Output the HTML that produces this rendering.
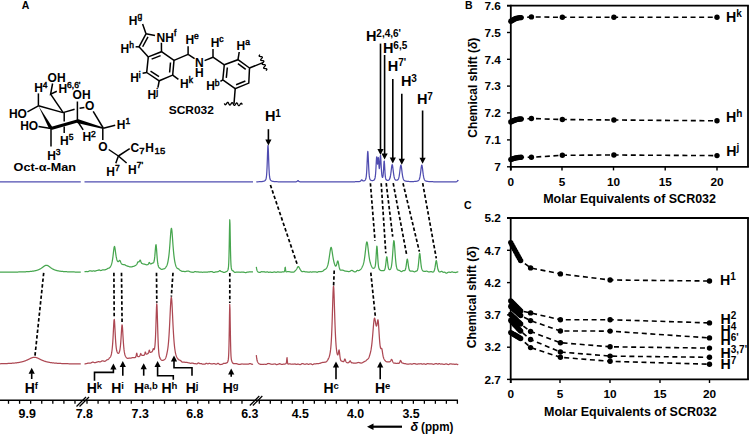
<!DOCTYPE html>
<html><head><meta charset="utf-8"><style>
html,body{margin:0;padding:0;background:#fff;}
body{width:750px;height:434px;overflow:hidden;}
svg{display:block;}
</style></head><body>
<svg width="750" height="434" viewBox="0 0 750 434" font-family='"Liberation Sans", sans-serif'>
<rect width="750" height="434" fill="#fff"/>
<path d="M0.00,181.90 L0.25,181.90 L0.50,181.90 L0.75,181.90 L1.00,181.90 L1.25,181.90 L1.50,181.90 L1.75,181.90 L2.00,181.90 L2.25,181.90 L2.50,181.90 L2.75,181.90 L3.00,181.90 L3.25,181.90 L3.50,181.90 L3.75,181.90 L4.00,181.90 L4.25,181.90 L4.50,181.90 L4.75,181.90 L5.00,181.90 L5.25,181.90 L5.50,181.90 L5.75,181.90 L6.00,181.90 L6.25,181.90 L6.50,181.90 L6.75,181.90 L7.00,181.90 L7.25,181.90 L7.50,181.90 L7.75,181.90 L8.00,181.90 L8.25,181.90 L8.50,181.90 L8.75,181.90 L9.00,181.90 L9.25,181.90 L9.50,181.90 L9.75,181.90 L10.00,181.90 L10.25,181.90 L10.50,181.90 L10.75,181.90 L11.00,181.90 L11.25,181.90 L11.50,181.90 L11.75,181.90 L12.00,181.90 L12.25,181.90 L12.50,181.90 L12.75,181.90 L13.00,181.90 L13.25,181.90 L13.50,181.90 L13.75,181.90 L14.00,181.90 L14.25,181.90 L14.50,181.90 L14.75,181.90 L15.00,181.90 L15.25,181.90 L15.50,181.90 L15.75,181.90 L16.00,181.90 L16.25,181.90 L16.50,181.90 L16.75,181.90 L17.00,181.90 L17.25,181.90 L17.50,181.90 L17.75,181.90 L18.00,181.90 L18.25,181.90 L18.50,181.90 L18.75,181.90 L19.00,181.90 L19.25,181.90 L19.50,181.90 L19.75,181.90 L20.00,181.90 L20.25,181.90 L20.50,181.90 L20.75,181.90 L21.00,181.90 L21.25,181.90 L21.50,181.90 L21.75,181.90 L22.00,181.90 L22.25,181.90 L22.50,181.90 L22.75,181.90 L23.00,181.90 L23.25,181.90 L23.50,181.90 L23.75,181.90 L24.00,181.90 L24.25,181.90 L24.50,181.90 L24.75,181.90 L25.00,181.90 L25.25,181.90 L25.50,181.90 L25.75,181.90 L26.00,181.90 L26.25,181.90 L26.50,181.90 L26.75,181.90 L27.00,181.90 L27.25,181.90 L27.50,181.90 L27.75,181.90 L28.00,181.90 L28.25,181.90 L28.50,181.90 L28.75,181.90 L29.00,181.90 L29.25,181.90 L29.50,181.90 L29.75,181.90 L30.00,181.90 L30.25,181.90 L30.50,181.90 L30.75,181.90 L31.00,181.90 L31.25,181.90 L31.50,181.90 L31.75,181.90 L32.00,181.90 L32.25,181.90 L32.50,181.90 L32.75,181.90 L33.00,181.90 L33.25,181.90 L33.50,181.90 L33.75,181.90 L34.00,181.90 L34.25,181.90 L34.50,181.90 L34.75,181.90 L35.00,181.90 L35.25,181.90 L35.50,181.90 L35.75,181.90 L36.00,181.90 L36.25,181.90 L36.50,181.90 L36.75,181.90 L37.00,181.90 L37.25,181.90 L37.50,181.90 L37.75,181.90 L38.00,181.90 L38.25,181.90 L38.50,181.90 L38.75,181.90 L39.00,181.90 L39.25,181.90 L39.50,181.90 L39.75,181.90 L40.00,181.90 L40.25,181.90 L40.50,181.90 L40.75,181.90 L41.00,181.90 L41.25,181.90 L41.50,181.90 L41.75,181.90 L42.00,181.90 L42.25,181.90 L42.50,181.90 L42.75,181.90 L43.00,181.90 L43.25,181.90 L43.50,181.90 L43.75,181.90 L44.00,181.90 L44.25,181.90 L44.50,181.90 L44.75,181.90 L45.00,181.90 L45.25,181.90 L45.50,181.90 L45.75,181.90 L46.00,181.90 L46.25,181.90 L46.50,181.90 L46.75,181.90 L47.00,181.90 L47.25,181.90 L47.50,181.90 L47.75,181.90 L48.00,181.90 L48.25,181.90 L48.50,181.90 L48.75,181.90 L49.00,181.90 L49.25,181.90 L49.50,181.90 L49.75,181.90 L50.00,181.90 L50.25,181.90 L50.50,181.90 L50.75,181.90 L51.00,181.90 L51.25,181.90 L51.50,181.90 L51.75,181.90 L52.00,181.90 L52.25,181.90 L52.50,181.90 L52.75,181.90 L53.00,181.90 L53.25,181.90 L53.50,181.90 L53.75,181.90 L54.00,181.90 L54.25,181.90 L54.50,181.90 L54.75,181.90 L55.00,181.90 L55.25,181.90 L55.50,181.90 L55.75,181.90 L56.00,181.90 L56.25,181.90 L56.50,181.90 L56.75,181.90 L57.00,181.90 L57.25,181.90 L57.50,181.90 L57.75,181.90 L58.00,181.90 L58.25,181.90 L58.50,181.90 L58.75,181.90 L59.00,181.90 L59.25,181.90 L59.50,181.90 L59.75,181.90 L60.00,181.90 L60.25,181.90 L60.50,181.90 L60.75,181.90 L61.00,181.90 L61.25,181.90 L61.50,181.90 L61.75,181.90 L62.00,181.90 L62.25,181.90 L62.50,181.90 L62.75,181.90 L63.00,181.90 L63.25,181.90 L63.50,181.90 L63.75,181.90 L64.00,181.90 L64.25,181.90 L64.50,181.90 L64.75,181.90 L65.00,181.90 L65.25,181.90 L65.50,181.90 L65.75,181.90 L66.00,181.90 L66.25,181.90 L66.50,181.90 L66.75,181.90 L67.00,181.90 L67.25,181.90 L67.50,181.90 L67.75,181.90 L68.00,181.90 L68.25,181.90 L68.50,181.90 L68.75,181.90 L69.00,181.90 L69.25,181.90 L69.50,181.90 L69.75,181.90 L70.00,181.90 L70.25,181.90 L70.50,181.90 L70.75,181.90 L71.00,181.90 L71.25,181.90 L71.50,181.90 L71.75,181.90 L72.00,181.90 L72.25,181.90 L72.50,181.90 L72.75,181.90 L73.00,181.90 L73.25,181.90 L73.50,181.90 L73.75,181.90 L74.00,181.90 L74.25,181.90 L74.50,181.90 L74.75,181.90 L75.00,181.90 L75.25,181.90 L75.50,181.90 L75.75,181.90 L76.00,181.90 L76.25,181.90 L76.50,181.90 L76.75,181.90 L77.00,181.90 L77.25,181.90 L77.50,181.90 L77.75,181.90 L78.00,181.90 L78.25,181.90 L78.50,181.90 L78.75,181.90 L79.00,181.90 L79.25,181.90 L79.50,181.90 L79.75,181.90 L80.00,181.90 L80.25,181.90 L80.50,181.90 L80.75,181.90" fill="none" stroke="#4f4cb0" stroke-width="1.25" stroke-linejoin="round"/>
<path d="M84.50,181.90 L84.75,181.90 L85.00,181.90 L85.25,181.90 L85.50,181.90 L85.75,181.90 L86.00,181.90 L86.25,181.90 L86.50,181.90 L86.75,181.90 L87.00,181.90 L87.25,181.90 L87.50,181.90 L87.75,181.90 L88.00,181.90 L88.25,181.90 L88.50,181.90 L88.75,181.90 L89.00,181.90 L89.25,181.90 L89.50,181.90 L89.75,181.90 L90.00,181.90 L90.25,181.90 L90.50,181.90 L90.75,181.90 L91.00,181.90 L91.25,181.90 L91.50,181.90 L91.75,181.90 L92.00,181.90 L92.25,181.90 L92.50,181.90 L92.75,181.90 L93.00,181.90 L93.25,181.90 L93.50,181.90 L93.75,181.90 L94.00,181.90 L94.25,181.90 L94.50,181.90 L94.75,181.90 L95.00,181.90 L95.25,181.90 L95.50,181.90 L95.75,181.90 L96.00,181.90 L96.25,181.90 L96.50,181.90 L96.75,181.90 L97.00,181.90 L97.25,181.90 L97.50,181.90 L97.75,181.90 L98.00,181.90 L98.25,181.90 L98.50,181.90 L98.75,181.90 L99.00,181.90 L99.25,181.90 L99.50,181.90 L99.75,181.90 L100.00,181.90 L100.25,181.90 L100.50,181.90 L100.75,181.90 L101.00,181.90 L101.25,181.90 L101.50,181.90 L101.75,181.90 L102.00,181.90 L102.25,181.90 L102.50,181.90 L102.75,181.90 L103.00,181.90 L103.25,181.90 L103.50,181.90 L103.75,181.90 L104.00,181.90 L104.25,181.90 L104.50,181.90 L104.75,181.90 L105.00,181.90 L105.25,181.90 L105.50,181.90 L105.75,181.90 L106.00,181.90 L106.25,181.90 L106.50,181.90 L106.75,181.90 L107.00,181.90 L107.25,181.90 L107.50,181.90 L107.75,181.90 L108.00,181.90 L108.25,181.90 L108.50,181.90 L108.75,181.90 L109.00,181.90 L109.25,181.90 L109.50,181.90 L109.75,181.90 L110.00,181.90 L110.25,181.90 L110.50,181.90 L110.75,181.90 L111.00,181.90 L111.25,181.90 L111.50,181.90 L111.75,181.90 L112.00,181.90 L112.25,181.90 L112.50,181.90 L112.75,181.90 L113.00,181.90 L113.25,181.90 L113.50,181.90 L113.75,181.90 L114.00,181.90 L114.25,181.90 L114.50,181.90 L114.75,181.90 L115.00,181.90 L115.25,181.90 L115.50,181.90 L115.75,181.90 L116.00,181.90 L116.25,181.90 L116.50,181.90 L116.75,181.90 L117.00,181.90 L117.25,181.90 L117.50,181.90 L117.75,181.90 L118.00,181.90 L118.25,181.90 L118.50,181.90 L118.75,181.90 L119.00,181.90 L119.25,181.90 L119.50,181.90 L119.75,181.90 L120.00,181.90 L120.25,181.90 L120.50,181.90 L120.75,181.90 L121.00,181.90 L121.25,181.90 L121.50,181.90 L121.75,181.90 L122.00,181.90 L122.25,181.90 L122.50,181.90 L122.75,181.90 L123.00,181.90 L123.25,181.90 L123.50,181.90 L123.75,181.90 L124.00,181.90 L124.25,181.90 L124.50,181.90 L124.75,181.90 L125.00,181.90 L125.25,181.90 L125.50,181.90 L125.75,181.90 L126.00,181.90 L126.25,181.90 L126.50,181.90 L126.75,181.90 L127.00,181.90 L127.25,181.90 L127.50,181.90 L127.75,181.90 L128.00,181.90 L128.25,181.90 L128.50,181.90 L128.75,181.90 L129.00,181.90 L129.25,181.90 L129.50,181.90 L129.75,181.90 L130.00,181.90 L130.25,181.90 L130.50,181.90 L130.75,181.90 L131.00,181.90 L131.25,181.90 L131.50,181.90 L131.75,181.90 L132.00,181.90 L132.25,181.90 L132.50,181.90 L132.75,181.90 L133.00,181.90 L133.25,181.90 L133.50,181.90 L133.75,181.90 L134.00,181.90 L134.25,181.90 L134.50,181.90 L134.75,181.90 L135.00,181.90 L135.25,181.90 L135.50,181.90 L135.75,181.90 L136.00,181.90 L136.25,181.90 L136.50,181.90 L136.75,181.90 L137.00,181.90 L137.25,181.90 L137.50,181.90 L137.75,181.90 L138.00,181.90 L138.25,181.90 L138.50,181.90 L138.75,181.90 L139.00,181.90 L139.25,181.90 L139.50,181.90 L139.75,181.90 L140.00,181.90 L140.25,181.90 L140.50,181.90 L140.75,181.90 L141.00,181.90 L141.25,181.90 L141.50,181.90 L141.75,181.90 L142.00,181.90 L142.25,181.90 L142.50,181.90 L142.75,181.90 L143.00,181.90 L143.25,181.90 L143.50,181.90 L143.75,181.90 L144.00,181.90 L144.25,181.90 L144.50,181.90 L144.75,181.90 L145.00,181.90 L145.25,181.90 L145.50,181.90 L145.75,181.90 L146.00,181.90 L146.25,181.90 L146.50,181.90 L146.75,181.90 L147.00,181.90 L147.25,181.90 L147.50,181.90 L147.75,181.90 L148.00,181.90 L148.25,181.90 L148.50,181.90 L148.75,181.90 L149.00,181.90 L149.25,181.90 L149.50,181.90 L149.75,181.90 L150.00,181.90 L150.25,181.90 L150.50,181.90 L150.75,181.90 L151.00,181.90 L151.25,181.90 L151.50,181.90 L151.75,181.90 L152.00,181.90 L152.25,181.90 L152.50,181.90 L152.75,181.90 L153.00,181.90 L153.25,181.90 L153.50,181.90 L153.75,181.90 L154.00,181.90 L154.25,181.90 L154.50,181.90 L154.75,181.90 L155.00,181.90 L155.25,181.90 L155.50,181.90 L155.75,181.90 L156.00,181.90 L156.25,181.90 L156.50,181.90 L156.75,181.90 L157.00,181.90 L157.25,181.90 L157.50,181.90 L157.75,181.90 L158.00,181.90 L158.25,181.90 L158.50,181.90 L158.75,181.90 L159.00,181.90 L159.25,181.90 L159.50,181.90 L159.75,181.90 L160.00,181.90 L160.25,181.90 L160.50,181.90 L160.75,181.90 L161.00,181.90 L161.25,181.90 L161.50,181.90 L161.75,181.90 L162.00,181.90 L162.25,181.90 L162.50,181.90 L162.75,181.90 L163.00,181.90 L163.25,181.90 L163.50,181.90 L163.75,181.90 L164.00,181.90 L164.25,181.90 L164.50,181.90 L164.75,181.90 L165.00,181.90 L165.25,181.90 L165.50,181.90 L165.75,181.90 L166.00,181.90 L166.25,181.90 L166.50,181.90 L166.75,181.90 L167.00,181.90 L167.25,181.90 L167.50,181.90 L167.75,181.90 L168.00,181.90 L168.25,181.90 L168.50,181.90 L168.75,181.90 L169.00,181.90 L169.25,181.90 L169.50,181.90 L169.75,181.90 L170.00,181.90 L170.25,181.90 L170.50,181.90 L170.75,181.90 L171.00,181.90 L171.25,181.90 L171.50,181.90 L171.75,181.90 L172.00,181.90 L172.25,181.90 L172.50,181.90 L172.75,181.90 L173.00,181.90 L173.25,181.90 L173.50,181.90 L173.75,181.90 L174.00,181.90 L174.25,181.90 L174.50,181.90 L174.75,181.90 L175.00,181.90 L175.25,181.90 L175.50,181.90 L175.75,181.90 L176.00,181.90 L176.25,181.90 L176.50,181.90 L176.75,181.90 L177.00,181.90 L177.25,181.90 L177.50,181.90 L177.75,181.90 L178.00,181.90 L178.25,181.90 L178.50,181.90 L178.75,181.90 L179.00,181.90 L179.25,181.90 L179.50,181.90 L179.75,181.90 L180.00,181.90 L180.25,181.90 L180.50,181.90 L180.75,181.90 L181.00,181.90 L181.25,181.90 L181.50,181.90 L181.75,181.90 L182.00,181.90 L182.25,181.90 L182.50,181.90 L182.75,181.90 L183.00,181.90 L183.25,181.90 L183.50,181.90 L183.75,181.90 L184.00,181.90 L184.25,181.90 L184.50,181.90 L184.75,181.90 L185.00,181.90 L185.25,181.90 L185.50,181.90 L185.75,181.90 L186.00,181.90 L186.25,181.90 L186.50,181.90 L186.75,181.90 L187.00,181.90 L187.25,181.90 L187.50,181.90 L187.75,181.90 L188.00,181.90 L188.25,181.90 L188.50,181.90 L188.75,181.90 L189.00,181.90 L189.25,181.90 L189.50,181.90 L189.75,181.90 L190.00,181.90 L190.25,181.90 L190.50,181.90 L190.75,181.90 L191.00,181.90 L191.25,181.90 L191.50,181.90 L191.75,181.90 L192.00,181.90 L192.25,181.90 L192.50,181.90 L192.75,181.90 L193.00,181.90 L193.25,181.90 L193.50,181.90 L193.75,181.90 L194.00,181.90 L194.25,181.90 L194.50,181.90 L194.75,181.90 L195.00,181.90 L195.25,181.90 L195.50,181.90 L195.75,181.90 L196.00,181.90 L196.25,181.90 L196.50,181.90 L196.75,181.90 L197.00,181.90 L197.25,181.90 L197.50,181.90 L197.75,181.90 L198.00,181.90 L198.25,181.90 L198.50,181.90 L198.75,181.90 L199.00,181.90 L199.25,181.90 L199.50,181.90 L199.75,181.90 L200.00,181.90 L200.25,181.90 L200.50,181.90 L200.75,181.90 L201.00,181.90 L201.25,181.90 L201.50,181.90 L201.75,181.90 L202.00,181.90 L202.25,181.90 L202.50,181.90 L202.75,181.90 L203.00,181.90 L203.25,181.90 L203.50,181.90 L203.75,181.90 L204.00,181.90 L204.25,181.90 L204.50,181.90 L204.75,181.90 L205.00,181.90 L205.25,181.90 L205.50,181.90 L205.75,181.90 L206.00,181.90 L206.25,181.90 L206.50,181.90 L206.75,181.90 L207.00,181.90 L207.25,181.90 L207.50,181.90 L207.75,181.90 L208.00,181.90 L208.25,181.90 L208.50,181.90 L208.75,181.90 L209.00,181.90 L209.25,181.90 L209.50,181.90 L209.75,181.90 L210.00,181.90 L210.25,181.90 L210.50,181.90 L210.75,181.90 L211.00,181.90 L211.25,181.90 L211.50,181.90 L211.75,181.90 L212.00,181.90 L212.25,181.90 L212.50,181.90 L212.75,181.90 L213.00,181.90 L213.25,181.90 L213.50,181.90 L213.75,181.90 L214.00,181.90 L214.25,181.90 L214.50,181.90 L214.75,181.90 L215.00,181.90 L215.25,181.90 L215.50,181.90 L215.75,181.90 L216.00,181.90 L216.25,181.90 L216.50,181.90 L216.75,181.90 L217.00,181.90 L217.25,181.90 L217.50,181.90 L217.75,181.90 L218.00,181.90 L218.25,181.90 L218.50,181.90 L218.75,181.90 L219.00,181.90 L219.25,181.90 L219.50,181.90 L219.75,181.90 L220.00,181.90 L220.25,181.90 L220.50,181.90 L220.75,181.90 L221.00,181.90 L221.25,181.90 L221.50,181.90 L221.75,181.90 L222.00,181.90 L222.25,181.90 L222.50,181.90 L222.75,181.90 L223.00,181.90 L223.25,181.90 L223.50,181.90 L223.75,181.90 L224.00,181.90 L224.25,181.90 L224.50,181.90 L224.75,181.90 L225.00,181.90 L225.25,181.90 L225.50,181.90 L225.75,181.90 L226.00,181.90 L226.25,181.90 L226.50,181.90 L226.75,181.90 L227.00,181.90 L227.25,181.90 L227.50,181.90 L227.75,181.90 L228.00,181.90 L228.25,181.90 L228.50,181.90 L228.75,181.90 L229.00,181.90 L229.25,181.90 L229.50,181.90 L229.75,181.90 L230.00,181.90 L230.25,181.90 L230.50,181.90 L230.75,181.90 L231.00,181.90 L231.25,181.90 L231.50,181.90 L231.75,181.90 L232.00,181.90 L232.25,181.90 L232.50,181.90 L232.75,181.90 L233.00,181.90 L233.25,181.90 L233.50,181.90 L233.75,181.90 L234.00,181.90 L234.25,181.90 L234.50,181.90 L234.75,181.90 L235.00,181.90 L235.25,181.90 L235.50,181.90 L235.75,181.90 L236.00,181.90 L236.25,181.90 L236.50,181.90 L236.75,181.90 L237.00,181.90 L237.25,181.90 L237.50,181.90 L237.75,181.90 L238.00,181.90 L238.25,181.90 L238.50,181.90 L238.75,181.90 L239.00,181.90 L239.25,181.90 L239.50,181.90 L239.75,181.90 L240.00,181.90 L240.25,181.90 L240.50,181.90 L240.75,181.90 L241.00,181.90 L241.25,181.90 L241.50,181.90 L241.75,181.90 L242.00,181.90 L242.25,181.90 L242.50,181.90 L242.75,181.90 L243.00,181.90 L243.25,181.90 L243.50,181.90 L243.75,181.90 L244.00,181.90 L244.25,181.90 L244.50,181.90 L244.75,181.90 L245.00,181.90 L245.25,181.90 L245.50,181.90 L245.75,181.90 L246.00,181.90 L246.25,181.90 L246.50,181.90 L246.75,181.90 L247.00,181.90 L247.25,181.90 L247.50,181.90 L247.75,181.90 L248.00,181.90 L248.25,181.90 L248.50,181.90 L248.75,181.90 L249.00,181.90 L249.25,181.90 L249.50,181.90 L249.75,181.90 L250.00,181.90 L250.25,181.90 L250.50,181.90 L250.75,181.90 L251.00,181.90 L251.25,181.90 L251.50,181.90 L251.75,181.90 L252.00,181.90 L252.25,181.90 L252.50,181.90 L252.75,181.90 L253.00,181.90" fill="none" stroke="#4f4cb0" stroke-width="1.25" stroke-linejoin="round"/>
<path d="M256.30,181.80 L256.55,181.80 L256.80,181.79 L257.05,181.79 L257.30,181.78 L257.55,181.78 L257.80,181.77 L258.05,181.77 L258.30,181.76 L258.55,181.75 L258.80,181.74 L259.05,181.74 L259.30,181.73 L259.55,181.72 L259.80,181.70 L260.05,181.69 L260.30,181.68 L260.55,181.67 L260.80,181.65 L261.05,181.63 L261.30,181.61 L261.55,181.59 L261.80,181.56 L262.05,181.54 L262.30,181.51 L262.55,181.47 L262.80,181.43 L263.05,181.38 L263.30,181.33 L263.55,181.26 L263.80,181.19 L264.05,181.10 L264.30,181.00 L264.55,180.87 L264.80,180.71 L265.05,180.51 L265.30,180.26 L265.55,179.93 L265.80,179.46 L266.05,178.73 L266.30,177.52 L266.55,175.51 L266.80,172.24 L267.05,167.35 L267.30,160.81 L267.55,153.38 L267.80,147.18 L268.05,145.42 L268.30,149.31 L268.55,156.36 L268.80,163.60 L269.05,169.51 L269.30,173.72 L269.55,176.44 L269.80,178.08 L270.05,179.06 L270.30,179.67 L270.55,180.08 L270.80,180.37 L271.05,180.60 L271.30,180.78 L271.55,180.92 L271.80,181.04 L272.05,181.14 L272.30,181.22 L272.55,181.29 L272.80,181.35 L273.05,181.40 L273.30,181.44 L273.55,181.48 L273.80,181.52 L274.05,181.55 L274.30,181.57 L274.55,181.60 L274.80,181.62 L275.05,181.64 L275.30,181.65 L275.55,181.67 L275.80,181.68 L276.05,181.70 L276.30,181.71 L276.55,181.72 L276.80,181.73 L277.05,181.74 L277.30,181.74 L277.55,181.75 L277.80,181.76 L278.05,181.77 L278.30,181.77 L278.55,181.78 L278.80,181.78 L279.05,181.79 L279.30,181.79 L279.55,181.80 L279.80,181.80 L280.05,181.80 L280.30,181.81 L280.55,181.81 L280.80,181.81 L281.05,181.82 L281.30,181.82 L281.55,181.82 L281.80,181.82 L282.05,181.83 L282.30,181.83 L282.55,181.83 L282.80,181.83 L283.05,181.83 L283.30,181.84 L283.55,181.84 L283.80,181.84 L284.05,181.84 L284.30,181.84 L284.55,181.84 L284.80,181.84 L285.05,181.85 L285.30,181.85 L285.55,181.85 L285.80,181.85 L286.05,181.85 L286.30,181.85 L286.55,181.85 L286.80,181.85 L287.05,181.85 L287.30,181.85 L287.55,181.85 L287.80,181.85 L288.05,181.85 L288.30,181.86 L288.55,181.86 L288.80,181.86 L289.05,181.86 L289.30,181.86 L289.55,181.86 L289.80,181.86 L290.05,181.86 L290.30,181.86 L290.55,181.86 L290.80,181.86 L291.05,181.86 L291.30,181.86 L291.55,181.86 L291.80,181.86 L292.05,181.86 L292.30,181.86 L292.55,181.85 L292.80,181.85 L293.05,181.85 L293.30,181.85 L293.55,181.85 L293.80,181.85 L294.05,181.84 L294.30,181.84 L294.55,181.84 L294.80,181.83 L295.05,181.82 L295.30,181.82 L295.55,181.80 L295.80,181.79 L296.05,181.76 L296.30,181.72 L296.55,181.65 L296.80,181.54 L297.05,181.37 L297.30,181.14 L297.55,180.88 L297.80,180.67 L298.05,180.60 L298.30,180.74 L298.55,180.99 L298.80,181.24 L299.05,181.44 L299.30,181.59 L299.55,181.69 L299.80,181.74 L300.05,181.78 L300.30,181.80 L300.55,181.81 L300.80,181.82 L301.05,181.83 L301.30,181.84 L301.55,181.84 L301.80,181.85 L302.05,181.85 L302.30,181.85 L302.55,181.86 L302.80,181.86 L303.05,181.86 L303.30,181.86 L303.55,181.86 L303.80,181.86 L304.05,181.87 L304.30,181.87 L304.55,181.87 L304.80,181.87 L305.05,181.87 L305.30,181.87 L305.55,181.87 L305.80,181.87 L306.05,181.87 L306.30,181.87 L306.55,181.87 L306.80,181.87 L307.05,181.87 L307.30,181.87 L307.55,181.87 L307.80,181.87 L308.05,181.87 L308.30,181.87 L308.55,181.87 L308.80,181.87 L309.05,181.87 L309.30,181.87 L309.55,181.87 L309.80,181.87 L310.05,181.87 L310.30,181.88 L310.55,181.88 L310.80,181.88 L311.05,181.88 L311.30,181.88 L311.55,181.88 L311.80,181.88 L312.05,181.88 L312.30,181.88 L312.55,181.88 L312.80,181.88 L313.05,181.88 L313.30,181.88 L313.55,181.88 L313.80,181.88 L314.05,181.88 L314.30,181.88 L314.55,181.88 L314.80,181.88 L315.05,181.88 L315.30,181.88 L315.55,181.88 L315.80,181.88 L316.05,181.88 L316.30,181.88 L316.55,181.88 L316.80,181.88 L317.05,181.88 L317.30,181.88 L317.55,181.88 L317.80,181.88 L318.05,181.88 L318.30,181.88 L318.55,181.88 L318.80,181.87 L319.05,181.87 L319.30,181.87 L319.55,181.87 L319.80,181.87 L320.05,181.87 L320.30,181.87 L320.55,181.87 L320.80,181.87 L321.05,181.87 L321.30,181.87 L321.55,181.87 L321.80,181.87 L322.05,181.87 L322.30,181.87 L322.55,181.87 L322.80,181.87 L323.05,181.87 L323.30,181.87 L323.55,181.87 L323.80,181.87 L324.05,181.87 L324.30,181.87 L324.55,181.87 L324.80,181.87 L325.05,181.87 L325.30,181.87 L325.55,181.87 L325.80,181.87 L326.05,181.87 L326.30,181.87 L326.55,181.87 L326.80,181.87 L327.05,181.87 L327.30,181.87 L327.55,181.87 L327.80,181.87 L328.05,181.87 L328.30,181.87 L328.55,181.87 L328.80,181.87 L329.05,181.87 L329.30,181.87 L329.55,181.87 L329.80,181.87 L330.05,181.87 L330.30,181.87 L330.55,181.87 L330.80,181.87 L331.05,181.87 L331.30,181.87 L331.55,181.87 L331.80,181.87 L332.05,181.87 L332.30,181.87 L332.55,181.86 L332.80,181.86 L333.05,181.86 L333.30,181.86 L333.55,181.86 L333.80,181.86 L334.05,181.86 L334.30,181.86 L334.55,181.86 L334.80,181.86 L335.05,181.86 L335.30,181.86 L335.55,181.86 L335.80,181.86 L336.05,181.86 L336.30,181.86 L336.55,181.86 L336.80,181.86 L337.05,181.86 L337.30,181.86 L337.55,181.86 L337.80,181.86 L338.05,181.86 L338.30,181.86 L338.55,181.85 L338.80,181.85 L339.05,181.85 L339.30,181.85 L339.55,181.85 L339.80,181.85 L340.05,181.85 L340.30,181.85 L340.55,181.85 L340.80,181.85 L341.05,181.85 L341.30,181.85 L341.55,181.85 L341.80,181.85 L342.05,181.85 L342.30,181.85 L342.55,181.84 L342.80,181.84 L343.05,181.84 L343.30,181.84 L343.55,181.84 L343.80,181.84 L344.05,181.84 L344.30,181.84 L344.55,181.84 L344.80,181.84 L345.05,181.84 L345.30,181.83 L345.55,181.83 L345.80,181.83 L346.05,181.83 L346.30,181.83 L346.55,181.83 L346.80,181.83 L347.05,181.83 L347.30,181.83 L347.55,181.82 L347.80,181.82 L348.05,181.82 L348.30,181.82 L348.55,181.82 L348.80,181.82 L349.05,181.81 L349.30,181.81 L349.55,181.81 L349.80,181.81 L350.05,181.81 L350.30,181.81 L350.55,181.80 L350.80,181.80 L351.05,181.80 L351.30,181.80 L351.55,181.79 L351.80,181.79 L352.05,181.79 L352.30,181.79 L352.55,181.78 L352.80,181.78 L353.05,181.78 L353.30,181.77 L353.55,181.77 L353.80,181.77 L354.05,181.76 L354.30,181.76 L354.55,181.75 L354.80,181.75 L355.05,181.75 L355.30,181.74 L355.55,181.73 L355.80,181.73 L356.05,181.72 L356.30,181.72 L356.55,181.71 L356.80,181.70 L357.05,181.69 L357.30,181.68 L357.55,181.67 L357.80,181.66 L358.05,181.65 L358.30,181.63 L358.55,181.62 L358.80,181.60 L359.05,181.57 L359.30,181.55 L359.55,181.51 L359.80,181.46 L360.05,181.39 L360.30,181.27 L360.55,181.09 L360.80,180.83 L361.05,180.50 L361.30,180.14 L361.55,179.87 L361.80,179.81 L362.05,180.00 L362.30,180.29 L362.55,180.57 L362.80,180.78 L363.05,180.90 L363.30,180.96 L363.55,180.95 L363.80,180.91 L364.05,180.84 L364.30,180.73 L364.55,180.60 L364.80,180.43 L365.05,180.21 L365.30,179.92 L365.55,179.49 L365.80,178.83 L366.05,177.77 L366.30,176.04 L366.55,173.34 L366.80,169.43 L367.05,164.32 L367.30,158.52 L367.55,153.43 L367.80,151.30 L368.05,153.41 L368.30,158.48 L368.55,164.26 L368.80,169.36 L369.05,173.25 L369.30,175.92 L369.55,177.63 L369.80,178.67 L370.05,179.31 L370.30,179.71 L370.55,179.98 L370.80,180.18 L371.05,180.32 L371.30,180.42 L371.55,180.50 L371.80,180.54 L372.05,180.57 L372.30,180.58 L372.55,180.57 L372.80,180.54 L373.05,180.49 L373.30,180.41 L373.55,180.31 L373.80,180.17 L374.05,179.99 L374.30,179.75 L374.55,179.39 L374.80,178.84 L375.05,177.94 L375.30,176.47 L375.55,174.13 L375.80,170.71 L376.05,166.26 L376.30,161.40 L376.55,157.61 L376.80,156.81 L377.05,159.09 L377.30,162.28 L377.55,164.12 L377.80,163.43 L378.05,160.42 L378.30,157.50 L378.55,158.48 L378.80,162.88 L379.05,166.94 L379.30,168.67 L379.55,167.70 L379.80,164.54 L380.05,160.18 L380.30,156.38 L380.55,155.42 L380.80,158.18 L381.05,163.01 L381.30,167.92 L381.55,171.88 L381.80,174.65 L382.05,176.34 L382.30,177.19 L382.55,177.39 L382.80,176.94 L383.05,175.65 L383.30,173.22 L383.55,169.54 L383.80,165.07 L384.05,161.41 L384.30,161.08 L384.55,164.43 L384.80,169.10 L385.05,173.20 L385.30,176.12 L385.55,177.92 L385.80,178.94 L386.05,179.50 L386.30,179.83 L386.55,180.04 L386.80,180.18 L387.05,180.27 L387.30,180.32 L387.55,180.35 L387.80,180.35 L388.05,180.32 L388.30,180.27 L388.55,180.18 L388.80,180.04 L389.05,179.84 L389.30,179.55 L389.55,179.15 L389.80,178.57 L390.05,177.78 L390.30,176.74 L390.55,175.40 L390.80,173.75 L391.05,171.84 L391.30,169.74 L391.55,167.66 L391.80,165.88 L392.05,164.79 L392.30,164.68 L392.55,165.60 L392.80,167.26 L393.05,169.31 L393.30,171.41 L393.55,173.37 L393.80,175.07 L394.05,176.47 L394.30,177.57 L394.55,178.40 L394.80,179.01 L395.05,179.44 L395.30,179.74 L395.55,179.95 L395.80,180.09 L396.05,180.18 L396.30,180.23 L396.55,180.25 L396.80,180.24 L397.05,180.20 L397.30,180.12 L397.55,179.99 L397.80,179.80 L398.05,179.51 L398.30,179.10 L398.55,178.51 L398.80,177.71 L399.05,176.64 L399.30,175.28 L399.55,173.63 L399.80,171.72 L400.05,169.67 L400.30,167.68 L400.55,166.06 L400.80,165.18 L401.05,165.29 L401.30,166.37 L401.55,168.12 L401.80,170.17 L402.05,172.23 L402.30,174.12 L402.55,175.75 L402.80,177.08 L403.05,178.12 L403.30,178.91 L403.55,179.50 L403.80,179.93 L404.05,180.24 L404.30,180.47 L404.55,180.64 L404.80,180.77 L405.05,180.88 L405.30,180.97 L405.55,181.05 L405.80,181.11 L406.05,181.17 L406.30,181.21 L406.55,181.26 L406.80,181.29 L407.05,181.33 L407.30,181.35 L407.55,181.38 L407.80,181.40 L408.05,181.42 L408.30,181.44 L408.55,181.46 L408.80,181.47 L409.05,181.49 L409.30,181.50 L409.55,181.51 L409.80,181.52 L410.05,181.52 L410.30,181.53 L410.55,181.54 L410.80,181.54 L411.05,181.54 L411.30,181.54 L411.55,181.55 L411.80,181.55 L412.05,181.55 L412.30,181.54 L412.55,181.54 L412.80,181.54 L413.05,181.53 L413.30,181.53 L413.55,181.52 L413.80,181.51 L414.05,181.50 L414.30,181.49 L414.55,181.47 L414.80,181.46 L415.05,181.44 L415.30,181.42 L415.55,181.39 L415.80,181.36 L416.05,181.33 L416.30,181.30 L416.55,181.25 L416.80,181.21 L417.05,181.15 L417.30,181.08 L417.55,181.00 L417.80,180.91 L418.05,180.79 L418.30,180.64 L418.55,180.44 L418.80,180.17 L419.05,179.79 L419.30,179.27 L419.55,178.57 L419.80,177.62 L420.05,176.40 L420.30,174.88 L420.55,173.07 L420.80,171.05 L421.05,168.94 L421.30,167.02 L421.55,165.62 L421.80,165.10 L422.05,165.62 L422.30,167.02 L422.55,168.95 L422.80,171.06 L423.05,173.09 L423.30,174.90 L423.55,176.42 L423.80,177.65 L424.05,178.59 L424.30,179.30 L424.55,179.82 L424.80,180.20 L425.05,180.47 L425.30,180.68 L425.55,180.83 L425.80,180.95 L426.05,181.05 L426.30,181.14 L426.55,181.21 L426.80,181.27 L427.05,181.32 L427.30,181.36 L427.55,181.40 L427.80,181.44 L428.05,181.47 L428.30,181.50 L428.55,181.52 L428.80,181.55 L429.05,181.57 L429.30,181.59 L429.55,181.60 L429.80,181.62 L430.05,181.63 L430.30,181.65 L430.55,181.66 L430.80,181.67 L431.05,181.68 L431.30,181.69 L431.55,181.70 L431.80,181.71 L432.05,181.72 L432.30,181.72 L432.55,181.73 L432.80,181.74 L433.05,181.74 L433.30,181.75 L433.55,181.75 L433.80,181.76 L434.05,181.76 L434.30,181.77 L434.55,181.77 L434.80,181.77 L435.05,181.78 L435.30,181.78 L435.55,181.79 L435.80,181.79 L436.05,181.79 L436.30,181.79 L436.55,181.80 L436.80,181.80 L437.05,181.80 L437.30,181.80 L437.55,181.81 L437.80,181.81 L438.05,181.81 L438.30,181.81 L438.55,181.82 L438.80,181.82 L439.05,181.82 L439.30,181.82 L439.55,181.82 L439.80,181.82 L440.05,181.83 L440.30,181.83 L440.55,181.83 L440.80,181.83 L441.05,181.83 L441.30,181.83 L441.55,181.83 L441.80,181.84 L442.05,181.84 L442.30,181.84 L442.55,181.84 L442.80,181.84 L443.05,181.84 L443.30,181.84 L443.55,181.84 L443.80,181.84 L444.05,181.84 L444.30,181.85 L444.55,181.85 L444.80,181.85 L445.05,181.85 L445.30,181.85 L445.55,181.85 L445.80,181.85 L446.05,181.85 L446.30,181.85 L446.55,181.85 L446.80,181.85 L447.05,181.85 L447.30,181.85 L447.55,181.85 L447.80,181.85 L448.05,181.85 L448.30,181.86 L448.55,181.86 L448.80,181.86 L449.05,181.86 L449.30,181.86 L449.55,181.86 L449.80,181.86 L450.05,181.86 L450.30,181.86 L450.55,181.86 L450.80,181.86 L451.05,181.86 L451.30,181.86 L451.55,181.86 L451.80,181.86 L452.05,181.86 L452.30,181.86 L452.55,181.86 L452.80,181.86 L453.05,181.86 L453.30,181.85 L453.55,181.85 L453.80,181.85 L454.05,181.85 L454.30,181.85 L454.55,181.84 L454.80,181.84 L455.05,181.84 L455.30,181.83 L455.55,181.82 L455.80,181.81 L456.05,181.79 L456.30,181.76 L456.55,181.70 L456.80,181.58 L457.05,181.37 L457.30,181.05 L457.55,180.68 L457.80,180.50 L458.05,180.68 L458.30,181.05" fill="none" stroke="#4f4cb0" stroke-width="1.25" stroke-linejoin="round"/>
<path d="M0.00,272.18 L0.25,272.18 L0.50,272.18 L0.75,272.18 L1.00,272.18 L1.25,272.18 L1.50,272.18 L1.75,272.18 L2.00,272.17 L2.25,272.17 L2.50,272.17 L2.75,272.17 L3.00,272.17 L3.25,272.17 L3.50,272.17 L3.75,272.16 L4.00,272.16 L4.25,272.16 L4.50,272.16 L4.75,272.16 L5.00,272.16 L5.25,272.15 L5.50,272.15 L5.75,272.15 L6.00,272.15 L6.25,272.15 L6.50,272.15 L6.75,272.14 L7.00,272.14 L7.25,272.14 L7.50,272.14 L7.75,272.14 L8.00,272.13 L8.25,272.13 L8.50,272.13 L8.75,272.13 L9.00,272.12 L9.25,272.12 L9.50,272.12 L9.75,272.12 L10.00,272.11 L10.25,272.11 L10.50,272.11 L10.75,272.11 L11.00,272.10 L11.25,272.10 L11.50,272.10 L11.75,272.10 L12.00,272.09 L12.25,272.09 L12.50,272.09 L12.75,272.08 L13.00,272.08 L13.25,272.08 L13.50,272.07 L13.75,272.07 L14.00,272.07 L14.25,272.06 L14.50,272.06 L14.75,272.06 L15.00,272.05 L15.25,272.05 L15.50,272.05 L15.75,272.04 L16.00,272.04 L16.25,272.03 L16.50,272.03 L16.75,272.02 L17.00,272.02 L17.25,272.02 L17.50,272.01 L17.75,272.01 L18.00,272.00 L18.25,272.00 L18.50,271.99 L18.75,271.99 L19.00,271.98 L19.25,271.97 L19.50,271.97 L19.75,271.96 L20.00,271.96 L20.25,271.95 L20.50,271.94 L20.75,271.94 L21.00,271.93 L21.25,271.92 L21.50,271.92 L21.75,271.91 L22.00,271.90 L22.25,271.89 L22.50,271.88 L22.75,271.88 L23.00,271.87 L23.25,271.86 L23.50,271.85 L23.75,271.84 L24.00,271.83 L24.25,271.82 L24.50,271.81 L24.75,271.80 L25.00,271.79 L25.25,271.78 L25.50,271.77 L25.75,271.76 L26.00,271.74 L26.25,271.73 L26.50,271.72 L26.75,271.70 L27.00,271.69 L27.25,271.67 L27.50,271.66 L27.75,271.64 L28.00,271.63 L28.25,271.61 L28.50,271.59 L28.75,271.57 L29.00,271.56 L29.25,271.54 L29.50,271.52 L29.75,271.50 L30.00,271.47 L30.25,271.45 L30.50,271.43 L30.75,271.40 L31.00,271.38 L31.25,271.35 L31.50,271.32 L31.75,271.29 L32.00,271.26 L32.25,271.23 L32.50,271.20 L32.75,271.17 L33.00,271.13 L33.25,271.09 L33.50,271.06 L33.75,271.01 L34.00,270.97 L34.25,270.93 L34.50,270.88 L34.75,270.83 L35.00,270.78 L35.25,270.73 L35.50,270.67 L35.75,270.61 L36.00,270.55 L36.25,270.49 L36.50,270.42 L36.75,270.35 L37.00,270.27 L37.25,270.20 L37.50,270.11 L37.75,270.03 L38.00,269.94 L38.25,269.84 L38.50,269.74 L38.75,269.63 L39.00,269.52 L39.25,269.41 L39.50,269.29 L39.75,269.16 L40.00,269.03 L40.25,268.89 L40.50,268.74 L40.75,268.59 L41.00,268.43 L41.25,268.27 L41.50,268.10 L41.75,267.93 L42.00,267.75 L42.25,267.57 L42.50,267.38 L42.75,267.19 L43.00,267.00 L43.25,266.81 L43.50,266.63 L43.75,266.44 L44.00,266.27 L44.25,266.10 L44.50,265.94 L44.75,265.79 L45.00,265.66 L45.25,265.55 L45.50,265.45 L45.75,265.38 L46.00,265.33 L46.25,265.30 L46.50,265.30 L46.75,265.32 L47.00,265.37 L47.25,265.44 L47.50,265.53 L47.75,265.64 L48.00,265.76 L48.25,265.91 L48.50,266.06 L48.75,266.23 L49.00,266.41 L49.25,266.59 L49.50,266.77 L49.75,266.96 L50.00,267.15 L50.25,267.34 L50.50,267.53 L50.75,267.71 L51.00,267.89 L51.25,268.07 L51.50,268.24 L51.75,268.40 L52.00,268.56 L52.25,268.71 L52.50,268.86 L52.75,269.00 L53.00,269.13 L53.25,269.26 L53.50,269.38 L53.75,269.50 L54.00,269.61 L54.25,269.72 L54.50,269.82 L54.75,269.92 L55.00,270.01 L55.25,270.10 L55.50,270.18 L55.75,270.26 L56.00,270.33 L56.25,270.41 L56.50,270.47 L56.75,270.54 L57.00,270.60 L57.25,270.66 L57.50,270.72 L57.75,270.77 L58.00,270.82 L58.25,270.87 L58.50,270.92 L58.75,270.96 L59.00,271.01 L59.25,271.05 L59.50,271.09 L59.75,271.12 L60.00,271.16 L60.25,271.19 L60.50,271.23 L60.75,271.26 L61.00,271.29 L61.25,271.32 L61.50,271.35 L61.75,271.37 L62.00,271.40 L62.25,271.42 L62.50,271.45 L62.75,271.47 L63.00,271.49 L63.25,271.51 L63.50,271.53 L63.75,271.55 L64.00,271.57 L64.25,271.59 L64.50,271.61 L64.75,271.62 L65.00,271.64 L65.25,271.66 L65.50,271.67 L65.75,271.69 L66.00,271.70 L66.25,271.71 L66.50,271.73 L66.75,271.74 L67.00,271.75 L67.25,271.76 L67.50,271.78 L67.75,271.79 L68.00,271.80 L68.25,271.81 L68.50,271.82 L68.75,271.83 L69.00,271.84 L69.25,271.85 L69.50,271.86 L69.75,271.87 L70.00,271.88 L70.25,271.88 L70.50,271.89 L70.75,271.90 L71.00,271.91 L71.25,271.91 L71.50,271.92 L71.75,271.93 L72.00,271.94 L72.25,271.94 L72.50,271.95 L72.75,271.95 L73.00,271.96 L73.25,271.97 L73.50,271.97 L73.75,271.98 L74.00,271.98 L74.25,271.99 L74.50,271.99 L74.75,272.00 L75.00,272.00 L75.25,272.01 L75.50,272.01 L75.75,272.02 L76.00,272.02 L76.25,272.03 L76.50,272.03 L76.75,272.04 L77.00,272.04 L77.25,272.04 L77.50,272.05 L77.75,272.05 L78.00,272.06 L78.25,272.06 L78.50,272.06 L78.75,272.07 L79.00,272.07 L79.25,272.07 L79.50,272.08 L79.75,272.08 L80.00,272.08 L80.25,272.09 L80.50,272.09 L80.75,272.09" fill="none" stroke="#47a64f" stroke-width="1.25" stroke-linejoin="round"/>
<path d="M84.50,271.65 L84.75,271.65 L85.00,271.65 L85.25,271.61 L85.50,271.58 L85.75,271.54 L86.00,271.50 L86.25,271.49 L86.50,271.51 L86.75,271.53 L87.00,271.57 L87.25,271.61 L87.50,271.63 L87.75,271.62 L88.00,271.56 L88.25,271.46 L88.50,271.33 L88.75,271.19 L89.00,271.07 L89.25,270.99 L89.50,270.95 L89.75,270.92 L90.00,270.90 L90.25,270.87 L90.50,270.84 L90.75,270.83 L91.00,270.87 L91.25,270.95 L91.50,271.06 L91.75,271.16 L92.00,271.23 L92.25,271.24 L92.50,271.17 L92.75,271.06 L93.00,270.94 L93.25,270.84 L93.50,270.81 L93.75,270.85 L94.00,270.94 L94.25,271.05 L94.50,271.15 L94.75,271.19 L95.00,271.17 L95.25,271.10 L95.50,271.00 L95.75,270.87 L96.00,270.75 L96.25,270.65 L96.50,270.58 L96.75,270.53 L97.00,270.50 L97.25,270.46 L97.50,270.41 L97.75,270.36 L98.00,270.29 L98.25,270.20 L98.50,270.11 L98.75,270.03 L99.00,269.98 L99.25,269.98 L99.50,270.04 L99.75,270.15 L100.00,270.28 L100.25,270.40 L100.50,270.49 L100.75,270.54 L101.00,270.52 L101.25,270.45 L101.50,270.34 L101.75,270.22 L102.00,270.10 L102.25,269.99 L102.50,269.92 L102.75,269.86 L103.00,269.81 L103.25,269.79 L103.50,269.80 L103.75,269.84 L104.00,269.89 L104.25,269.94 L104.50,269.97 L104.75,269.94 L105.00,269.86 L105.25,269.75 L105.50,269.63 L105.75,269.52 L106.00,269.43 L106.25,269.33 L106.50,269.22 L106.75,269.09 L107.00,268.93 L107.25,268.75 L107.50,268.59 L107.75,268.45 L108.00,268.34 L108.25,268.26 L108.50,268.21 L108.75,268.15 L109.00,268.07 L109.25,267.96 L109.50,267.79 L109.75,267.56 L110.00,267.28 L110.25,266.94 L110.50,266.55 L110.75,266.10 L111.00,265.57 L111.25,264.96 L111.50,264.25 L111.75,263.41 L112.00,262.42 L112.25,261.22 L112.50,259.80 L112.75,258.13 L113.00,256.23 L113.25,254.12 L113.50,251.91 L113.75,249.77 L114.00,247.97 L114.25,246.80 L114.50,246.50 L114.75,247.11 L115.00,248.42 L115.25,250.16 L115.50,252.03 L115.75,253.84 L116.00,255.49 L116.25,256.93 L116.50,258.17 L116.75,259.20 L117.00,260.04 L117.25,260.70 L117.50,261.18 L117.75,261.48 L118.00,261.61 L118.25,261.59 L118.50,261.46 L118.75,261.23 L119.00,260.95 L119.25,260.67 L119.50,260.47 L119.75,260.45 L120.00,260.67 L120.25,261.11 L120.50,261.68 L120.75,262.28 L121.00,262.84 L121.25,263.31 L121.50,263.68 L121.75,263.96 L122.00,264.16 L122.25,264.31 L122.50,264.42 L122.75,264.50 L123.00,264.55 L123.25,264.60 L123.50,264.63 L123.75,264.66 L124.00,264.67 L124.25,264.69 L124.50,264.73 L124.75,264.80 L125.00,264.91 L125.25,265.04 L125.50,265.20 L125.75,265.36 L126.00,265.50 L126.25,265.63 L126.50,265.74 L126.75,265.85 L127.00,265.94 L127.25,266.04 L127.50,266.13 L127.75,266.21 L128.00,266.27 L128.25,266.31 L128.50,266.35 L128.75,266.40 L129.00,266.48 L129.25,266.60 L129.50,266.71 L129.75,266.81 L130.00,266.88 L130.25,266.92 L130.50,266.92 L130.75,266.92 L131.00,266.92 L131.25,266.92 L131.50,266.91 L131.75,266.89 L132.00,266.83 L132.25,266.74 L132.50,266.63 L132.75,266.52 L133.00,266.44 L133.25,266.38 L133.50,266.34 L133.75,266.31 L134.00,266.25 L134.25,266.15 L134.50,266.02 L134.75,265.88 L135.00,265.72 L135.25,265.57 L135.50,265.42 L135.75,265.27 L136.00,265.09 L136.25,264.89 L136.50,264.63 L136.75,264.30 L137.00,263.88 L137.25,263.36 L137.50,262.76 L137.75,262.18 L138.00,261.81 L138.25,261.72 L138.50,261.83 L138.75,261.93 L139.00,261.89 L139.25,261.64 L139.50,261.19 L139.75,260.63 L140.00,260.19 L140.25,260.13 L140.50,260.54 L140.75,261.25 L141.00,262.00 L141.25,262.62 L141.50,263.07 L141.75,263.35 L142.00,263.51 L142.25,263.60 L142.50,263.68 L142.75,263.75 L143.00,263.85 L143.25,263.94 L143.50,264.01 L143.75,264.07 L144.00,264.11 L144.25,264.14 L144.50,264.18 L144.75,264.23 L145.00,264.32 L145.25,264.42 L145.50,264.53 L145.75,264.62 L146.00,264.69 L146.25,264.73 L146.50,264.76 L146.75,264.77 L147.00,264.77 L147.25,264.75 L147.50,264.70 L147.75,264.61 L148.00,264.45 L148.25,264.19 L148.50,263.81 L148.75,263.32 L149.00,262.81 L149.25,262.50 L149.50,262.60 L149.75,263.00 L150.00,263.43 L150.25,263.77 L150.50,263.95 L150.75,263.99 L151.00,263.93 L151.25,263.81 L151.50,263.66 L151.75,263.49 L152.00,263.34 L152.25,263.21 L152.50,263.12 L152.75,263.06 L153.00,263.01 L153.25,262.92 L153.50,262.72 L153.75,262.31 L154.00,261.60 L154.25,260.48 L154.50,258.83 L154.75,256.63 L155.00,253.89 L155.25,250.78 L155.50,247.71 L155.75,245.41 L156.00,244.67 L156.25,245.90 L156.50,248.67 L156.75,252.15 L157.00,255.64 L157.25,258.73 L157.50,261.26 L157.75,263.22 L158.00,264.70 L158.25,265.78 L158.50,266.56 L158.75,267.10 L159.00,267.48 L159.25,267.74 L159.50,267.95 L159.75,268.13 L160.00,268.32 L160.25,268.53 L160.50,268.74 L160.75,268.93 L161.00,269.11 L161.25,269.23 L161.50,269.31 L161.75,269.34 L162.00,269.33 L162.25,269.28 L162.50,269.21 L162.75,269.13 L163.00,269.05 L163.25,268.99 L163.50,268.94 L163.75,268.89 L164.00,268.85 L164.25,268.77 L164.50,268.66 L164.75,268.48 L165.00,268.25 L165.25,267.97 L165.50,267.66 L165.75,267.33 L166.00,266.97 L166.25,266.60 L166.50,266.19 L166.75,265.71 L167.00,265.14 L167.25,264.44 L167.50,263.58 L167.75,262.54 L168.00,261.34 L168.25,259.96 L168.50,258.40 L168.75,256.62 L169.00,254.57 L169.25,252.21 L169.50,249.48 L169.75,246.37 L170.00,242.95 L170.25,239.33 L170.50,235.75 L170.75,232.52 L171.00,230.00 L171.25,228.56 L171.50,228.41 L171.75,229.55 L172.00,231.80 L172.25,234.82 L172.50,238.25 L172.75,241.79 L173.00,245.23 L173.25,248.42 L173.50,251.31 L173.75,253.89 L174.00,256.14 L174.25,258.11 L174.50,259.81 L174.75,261.29 L175.00,262.58 L175.25,263.70 L175.50,264.67 L175.75,265.49 L176.00,266.19 L176.25,266.78 L176.50,267.29 L176.75,267.72 L177.00,268.09 L177.25,268.36 L177.50,268.54 L177.75,268.64 L178.00,268.70 L178.25,268.77 L178.50,268.88 L178.75,269.06 L179.00,269.30 L179.25,269.57 L179.50,269.82 L179.75,270.04 L180.00,270.21 L180.25,270.34 L180.50,270.46 L180.75,270.59 L181.00,270.74 L181.25,270.91 L181.50,271.09 L181.75,271.24 L182.00,271.35 L182.25,271.40 L182.50,271.39 L182.75,271.35 L183.00,271.30 L183.25,271.28 L183.50,271.28 L183.75,271.32 L184.00,271.39 L184.25,271.47 L184.50,271.54 L184.75,271.58 L185.00,271.60 L185.25,271.58 L185.50,271.53 L185.75,271.48 L186.00,271.42 L186.25,271.35 L186.50,271.28 L186.75,271.19 L187.00,271.11 L187.25,271.05 L187.50,271.01 L187.75,271.01 L188.00,271.03 L188.25,271.07 L188.50,271.11 L188.75,271.17 L189.00,271.25 L189.25,271.34 L189.50,271.45 L189.75,271.58 L190.00,271.70 L190.25,271.82 L190.50,271.91 L190.75,271.98 L191.00,272.03 L191.25,272.06 L191.50,272.08 L191.75,272.11 L192.00,272.14 L192.25,272.18 L192.50,272.23 L192.75,272.27 L193.00,272.29 L193.25,272.28 L193.50,272.24 L193.75,272.16 L194.00,272.05 L194.25,271.92 L194.50,271.79 L194.75,271.67 L195.00,271.60 L195.25,271.57 L195.50,271.61 L195.75,271.67 L196.00,271.73 L196.25,271.78 L196.50,271.80 L196.75,271.80 L197.00,271.79 L197.25,271.77 L197.50,271.77 L197.75,271.79 L198.00,271.84 L198.25,271.90 L198.50,271.96 L198.75,272.02 L199.00,272.06 L199.25,272.08 L199.50,272.08 L199.75,272.08 L200.00,272.07 L200.25,272.06 L200.50,272.07 L200.75,272.07 L201.00,272.09 L201.25,272.12 L201.50,272.15 L201.75,272.19 L202.00,272.22 L202.25,272.25 L202.50,272.27 L202.75,272.27 L203.00,272.24 L203.25,272.18 L203.50,272.11 L203.75,272.05 L204.00,272.01 L204.25,272.00 L204.50,272.03 L204.75,272.07 L205.00,272.11 L205.25,272.15 L205.50,272.17 L205.75,272.18 L206.00,272.18 L206.25,272.18 L206.50,272.16 L206.75,272.15 L207.00,272.12 L207.25,272.09 L207.50,272.05 L207.75,272.02 L208.00,271.99 L208.25,271.98 L208.50,271.97 L208.75,271.97 L209.00,271.98 L209.25,271.96 L209.50,271.90 L209.75,271.81 L210.00,271.71 L210.25,271.62 L210.50,271.56 L210.75,271.53 L211.00,271.53 L211.25,271.54 L211.50,271.55 L211.75,271.58 L212.00,271.64 L212.25,271.72 L212.50,271.83 L212.75,271.97 L213.00,272.11 L213.25,272.24 L213.50,272.35 L213.75,272.42 L214.00,272.45 L214.25,272.43 L214.50,272.37 L214.75,272.27 L215.00,272.16 L215.25,272.06 L215.50,271.97 L215.75,271.91 L216.00,271.89 L216.25,271.88 L216.50,271.88 L216.75,271.87 L217.00,271.84 L217.25,271.80 L217.50,271.76 L217.75,271.70 L218.00,271.64 L218.25,271.57 L218.50,271.48 L218.75,271.36 L219.00,271.17 L219.25,270.93 L219.50,270.68 L219.75,270.52 L220.00,270.56 L220.25,270.76 L220.50,271.00 L220.75,271.22 L221.00,271.37 L221.25,271.48 L221.50,271.55 L221.75,271.62 L222.00,271.69 L222.25,271.77 L222.50,271.86 L222.75,271.98 L223.00,272.10 L223.25,272.22 L223.50,272.33 L223.75,272.41 L224.00,272.46 L224.25,272.45 L224.50,272.39 L224.75,272.31 L225.00,272.22 L225.25,272.11 L225.50,272.00 L225.75,271.88 L226.00,271.77 L226.25,271.64 L226.50,271.51 L226.75,271.36 L227.00,271.18 L227.25,270.96 L227.50,270.69 L227.75,270.32 L228.00,269.74 L228.25,268.74 L228.50,266.77 L228.75,262.78 L229.00,255.32 L229.25,243.52 L229.50,229.18 L229.75,219.75 L230.00,224.07 L230.25,237.57 L230.50,250.75 L230.75,259.85 L231.00,265.03 L231.25,267.66 L231.50,269.01 L231.75,269.76 L232.00,270.20 L232.25,270.46 L232.50,270.60 L232.75,270.70 L233.00,270.82 L233.25,270.99 L233.50,271.23 L233.75,271.50 L234.00,271.77 L234.25,272.01 L234.50,272.20 L234.75,272.31 L235.00,272.35 L235.25,272.34 L235.50,272.30 L235.75,272.24 L236.00,272.19 L236.25,272.16 L236.50,272.15 L236.75,272.17 L237.00,272.19 L237.25,272.22 L237.50,272.24 L237.75,272.24 L238.00,272.23 L238.25,272.21 L238.50,272.19 L238.75,272.17 L239.00,272.17 L239.25,272.18 L239.50,272.21 L239.75,272.24 L240.00,272.26 L240.25,272.26 L240.50,272.24 L240.75,272.18 L241.00,272.10 L241.25,272.04 L241.50,272.00 L241.75,272.01 L242.00,272.04 L242.25,272.08 L242.50,272.11 L242.75,272.12 L243.00,272.13 L243.25,272.14 L243.50,272.18 L243.75,272.22 L244.00,272.29 L244.25,272.35 L244.50,272.41 L244.75,272.45 L245.00,272.50 L245.25,272.54 L245.50,272.57 L245.75,272.57 L246.00,272.56 L246.25,272.50 L246.50,272.42 L246.75,272.30 L247.00,272.19 L247.25,272.11 L247.50,272.05 L247.75,272.04 L248.00,272.04 L248.25,272.04 L248.50,272.02 L248.75,271.98 L249.00,271.93 L249.25,271.87 L249.50,271.84 L249.75,271.82 L250.00,271.83 L250.25,271.85 L250.50,271.87 L250.75,271.88 L251.00,271.88 L251.25,271.87 L251.50,271.88 L251.75,271.90 L252.00,271.93 L252.25,271.96 L252.50,271.97 L252.75,271.97 L253.00,271.95" fill="none" stroke="#47a64f" stroke-width="1.25" stroke-linejoin="round"/>
<path d="M256.30,266.97 L256.55,268.42 L256.80,269.57 L257.05,270.41 L257.30,271.01 L257.55,271.42 L257.80,271.71 L258.05,271.92 L258.30,272.07 L258.55,272.18 L258.80,272.26 L259.05,272.34 L259.30,272.40 L259.55,272.45 L259.80,272.45 L260.05,272.39 L260.30,272.30 L260.55,272.17 L260.80,272.02 L261.05,271.89 L261.30,271.79 L261.55,271.72 L261.80,271.69 L262.05,271.70 L262.30,271.74 L262.55,271.79 L262.80,271.83 L263.05,271.84 L263.30,271.82 L263.55,271.77 L263.80,271.74 L264.05,271.74 L264.30,271.78 L264.55,271.87 L264.80,271.98 L265.05,272.09 L265.30,272.16 L265.55,272.19 L265.80,272.19 L266.05,272.15 L266.30,272.08 L266.55,272.00 L266.80,271.92 L267.05,271.87 L267.30,271.85 L267.55,271.90 L267.80,271.99 L268.05,272.10 L268.30,272.20 L268.55,272.28 L268.80,272.31 L269.05,272.30 L269.30,272.25 L269.55,272.20 L269.80,272.16 L270.05,272.15 L270.30,272.15 L270.55,272.18 L270.80,272.23 L271.05,272.28 L271.30,272.32 L271.55,272.36 L271.80,272.38 L272.05,272.39 L272.30,272.39 L272.55,272.36 L272.80,272.32 L273.05,272.25 L273.30,272.17 L273.55,272.08 L273.80,272.02 L274.05,271.97 L274.30,271.97 L274.55,271.99 L274.80,272.03 L275.05,272.09 L275.30,272.16 L275.55,272.23 L275.80,272.28 L276.05,272.30 L276.30,272.28 L276.55,272.23 L276.80,272.15 L277.05,272.05 L277.30,271.95 L277.55,271.86 L277.80,271.82 L278.05,271.82 L278.30,271.88 L278.55,271.96 L278.80,272.06 L279.05,272.15 L279.30,272.20 L279.55,272.22 L279.80,272.21 L280.05,272.20 L280.30,272.18 L280.55,272.17 L280.80,272.16 L281.05,272.14 L281.30,272.10 L281.55,272.06 L281.80,272.01 L282.05,271.98 L282.30,271.95 L282.55,271.93 L282.80,271.91 L283.05,271.89 L283.30,271.87 L283.55,271.85 L283.80,271.83 L284.05,271.78 L284.30,271.66 L284.55,271.24 L284.80,269.92 L285.05,267.62 L285.30,267.27 L285.55,269.61 L285.80,271.21 L286.05,271.74 L286.30,271.84 L286.55,271.82 L286.80,271.76 L287.05,271.70 L287.30,271.67 L287.55,271.67 L287.80,271.67 L288.05,271.66 L288.30,271.65 L288.55,271.65 L288.80,271.64 L289.05,271.66 L289.30,271.69 L289.55,271.75 L289.80,271.81 L290.05,271.87 L290.30,271.94 L290.55,272.01 L290.80,272.08 L291.05,272.14 L291.30,272.17 L291.55,272.19 L291.80,272.20 L292.05,272.20 L292.30,272.20 L292.55,272.22 L292.80,272.22 L293.05,272.21 L293.30,272.18 L293.55,272.11 L293.80,272.01 L294.05,271.88 L294.30,271.70 L294.55,271.49 L294.80,271.23 L295.05,270.95 L295.30,270.68 L295.55,270.42 L295.80,270.16 L296.05,269.90 L296.30,269.61 L296.55,269.24 L296.80,268.81 L297.05,268.33 L297.30,267.82 L297.55,267.34 L297.80,266.95 L298.05,266.69 L298.30,266.62 L298.55,266.71 L298.80,266.96 L299.05,267.33 L299.30,267.75 L299.55,268.21 L299.80,268.68 L300.05,269.15 L300.30,269.61 L300.55,270.03 L300.80,270.43 L301.05,270.76 L301.30,271.05 L301.55,271.30 L301.80,271.50 L302.05,271.64 L302.30,271.71 L302.55,271.71 L302.80,271.66 L303.05,271.58 L303.30,271.50 L303.55,271.45 L303.80,271.43 L304.05,271.46 L304.30,271.52 L304.55,271.60 L304.80,271.67 L305.05,271.74 L305.30,271.80 L305.55,271.85 L305.80,271.89 L306.05,271.91 L306.30,271.93 L306.55,271.93 L306.80,271.95 L307.05,271.97 L307.30,271.99 L307.55,272.02 L307.80,272.04 L308.05,272.07 L308.30,272.09 L308.55,272.11 L308.80,272.15 L309.05,272.17 L309.30,272.17 L309.55,272.12 L309.80,272.05 L310.05,271.97 L310.30,271.91 L310.55,271.89 L310.80,271.93 L311.05,272.01 L311.30,272.09 L311.55,272.16 L311.80,272.17 L312.05,272.11 L312.30,272.01 L312.55,271.90 L312.80,271.81 L313.05,271.76 L313.30,271.76 L313.55,271.79 L313.80,271.83 L314.05,271.87 L314.30,271.90 L314.55,271.91 L314.80,271.91 L315.05,271.88 L315.30,271.86 L315.55,271.84 L315.80,271.85 L316.05,271.91 L316.30,272.01 L316.55,272.13 L316.80,272.22 L317.05,272.28 L317.30,272.26 L317.55,272.17 L317.80,272.04 L318.05,271.89 L318.30,271.74 L318.55,271.63 L318.80,271.56 L319.05,271.53 L319.30,271.53 L319.55,271.54 L319.80,271.57 L320.05,271.59 L320.30,271.61 L320.55,271.61 L320.80,271.60 L321.05,271.58 L321.30,271.54 L321.55,271.52 L321.80,271.48 L322.05,271.43 L322.30,271.35 L322.55,271.23 L322.80,271.07 L323.05,270.89 L323.30,270.69 L323.55,270.47 L323.80,270.26 L324.05,270.05 L324.30,269.84 L324.55,269.66 L324.80,269.50 L325.05,269.36 L325.30,269.22 L325.55,269.08 L325.80,268.91 L326.05,268.68 L326.30,268.39 L326.55,268.03 L326.80,267.59 L327.05,267.10 L327.30,266.54 L327.55,265.89 L327.80,265.11 L328.05,264.16 L328.30,263.03 L328.55,261.72 L328.80,260.25 L329.05,258.68 L329.30,257.00 L329.55,255.26 L329.80,253.48 L330.05,251.73 L330.30,250.10 L330.55,248.74 L330.80,247.80 L331.05,247.39 L331.30,247.56 L331.55,248.30 L331.80,249.48 L332.05,250.98 L332.30,252.65 L332.55,254.34 L332.80,255.97 L333.05,257.49 L333.30,258.88 L333.55,260.14 L333.80,261.28 L334.05,262.32 L334.30,263.25 L334.55,264.08 L334.80,264.79 L335.05,265.38 L335.30,265.82 L335.55,266.08 L335.80,266.12 L336.05,265.93 L336.30,265.50 L336.55,264.84 L336.80,263.98 L337.05,263.01 L337.30,262.04 L337.55,261.27 L337.80,260.96 L338.05,261.31 L338.30,262.26 L338.55,263.60 L338.80,265.06 L339.05,266.45 L339.30,267.64 L339.55,268.58 L339.80,269.28 L340.05,269.75 L340.30,270.04 L340.55,270.19 L340.80,270.24 L341.05,270.24 L341.30,270.21 L341.55,270.19 L341.80,270.18 L342.05,270.18 L342.30,270.19 L342.55,270.20 L342.80,270.23 L343.05,270.27 L343.30,270.32 L343.55,270.41 L343.80,270.52 L344.05,270.66 L344.30,270.80 L344.55,270.93 L344.80,271.03 L345.05,271.09 L345.30,271.10 L345.55,271.11 L345.80,271.12 L346.05,271.15 L346.30,271.20 L346.55,271.27 L346.80,271.34 L347.05,271.39 L347.30,271.43 L347.55,271.45 L347.80,271.47 L348.05,271.49 L348.30,271.52 L348.55,271.54 L348.80,271.55 L349.05,271.54 L349.30,271.51 L349.55,271.45 L349.80,271.36 L350.05,271.24 L350.30,271.09 L350.55,270.93 L350.80,270.77 L351.05,270.63 L351.30,270.51 L351.55,270.45 L351.80,270.43 L352.05,270.47 L352.30,270.55 L352.55,270.66 L352.80,270.80 L353.05,270.95 L353.30,271.12 L353.55,271.28 L353.80,271.45 L354.05,271.60 L354.30,271.73 L354.55,271.82 L354.80,271.87 L355.05,271.87 L355.30,271.83 L355.55,271.75 L355.80,271.62 L356.05,271.45 L356.30,271.23 L356.55,270.99 L356.80,270.75 L357.05,270.56 L357.30,270.45 L357.55,270.41 L357.80,270.45 L358.05,270.51 L358.30,270.57 L358.55,270.59 L358.80,270.58 L359.05,270.51 L359.30,270.39 L359.55,270.24 L359.80,270.06 L360.05,269.87 L360.30,269.67 L360.55,269.46 L360.80,269.23 L361.05,268.95 L361.30,268.62 L361.55,268.23 L361.80,267.79 L362.05,267.30 L362.30,266.78 L362.55,266.23 L362.80,265.63 L363.05,264.98 L363.30,264.24 L363.55,263.39 L363.80,262.38 L364.05,261.18 L364.30,259.77 L364.55,258.15 L364.80,256.33 L365.05,254.33 L365.30,252.19 L365.55,249.97 L365.80,247.75 L366.05,245.66 L366.30,243.87 L366.55,242.56 L366.80,241.91 L367.05,241.98 L367.30,242.77 L367.55,244.16 L367.80,245.98 L368.05,248.05 L368.30,250.22 L368.55,252.37 L368.80,254.42 L369.05,256.31 L369.30,258.01 L369.55,259.51 L369.80,260.78 L370.05,261.86 L370.30,262.79 L370.55,263.60 L370.80,264.34 L371.05,265.03 L371.30,265.67 L371.55,266.27 L371.80,266.80 L372.05,267.26 L372.30,267.62 L372.55,267.91 L372.80,268.11 L373.05,268.23 L373.30,268.27 L373.55,268.26 L373.80,268.17 L374.05,268.06 L374.30,267.91 L374.55,267.69 L374.80,267.34 L375.05,266.73 L375.30,265.64 L375.55,263.83 L375.80,261.12 L376.05,257.45 L376.30,253.09 L376.55,248.85 L376.80,246.20 L377.05,246.52 L377.30,249.62 L377.55,254.02 L377.80,258.37 L378.05,262.00 L378.30,264.71 L378.55,266.60 L378.80,267.83 L379.05,268.64 L379.30,269.16 L379.55,269.53 L379.80,269.81 L380.05,270.03 L380.30,270.21 L380.55,270.36 L380.80,270.48 L381.05,270.55 L381.30,270.58 L381.55,270.59 L381.80,270.60 L382.05,270.60 L382.30,270.62 L382.55,270.64 L382.80,270.67 L383.05,270.68 L383.30,270.67 L383.55,270.65 L383.80,270.59 L384.05,270.47 L384.30,270.27 L384.55,269.94 L384.80,269.42 L385.05,268.61 L385.30,267.45 L385.55,265.88 L385.80,263.90 L386.05,261.62 L386.30,259.30 L386.55,257.45 L386.80,256.72 L387.05,257.46 L387.30,259.32 L387.55,261.65 L387.80,263.91 L388.05,265.83 L388.30,267.31 L388.55,268.36 L388.80,269.03 L389.05,269.42 L389.30,269.62 L389.55,269.68 L389.80,269.65 L390.05,269.54 L390.30,269.34 L390.55,269.03 L390.80,268.56 L391.05,267.86 L391.30,266.88 L391.55,265.52 L391.80,263.73 L392.05,261.47 L392.30,258.71 L392.55,255.51 L392.80,251.97 L393.05,248.31 L393.30,244.86 L393.55,242.15 L393.80,240.70 L394.05,240.89 L394.30,242.66 L394.55,245.58 L394.80,249.10 L395.05,252.73 L395.30,256.18 L395.55,259.26 L395.80,261.90 L396.05,264.08 L396.30,265.83 L396.55,267.18 L396.80,268.18 L397.05,268.90 L397.30,269.38 L397.55,269.71 L397.80,269.90 L398.05,270.04 L398.30,270.13 L398.55,270.21 L398.80,270.27 L399.05,270.35 L399.30,270.44 L399.55,270.55 L399.80,270.68 L400.05,270.83 L400.30,271.00 L400.55,271.17 L400.80,271.34 L401.05,271.47 L401.30,271.55 L401.55,271.56 L401.80,271.49 L402.05,271.36 L402.30,271.18 L402.55,271.00 L402.80,270.84 L403.05,270.73 L403.30,270.65 L403.55,270.61 L403.80,270.58 L404.05,270.57 L404.30,270.58 L404.55,270.56 L404.80,270.46 L405.05,270.23 L405.30,269.77 L405.55,269.02 L405.80,267.95 L406.05,266.54 L406.30,264.83 L406.55,262.93 L406.80,261.08 L407.05,259.65 L407.30,259.12 L407.55,259.68 L407.80,261.13 L408.05,263.00 L408.30,264.91 L408.55,266.61 L408.80,268.02 L409.05,269.10 L409.30,269.88 L409.55,270.41 L409.80,270.75 L410.05,270.95 L410.30,271.06 L410.55,271.12 L410.80,271.16 L411.05,271.19 L411.30,271.21 L411.55,271.21 L411.80,271.21 L412.05,271.20 L412.30,271.20 L412.55,271.21 L412.80,271.23 L413.05,271.28 L413.30,271.38 L413.55,271.49 L413.80,271.61 L414.05,271.72 L414.30,271.78 L414.55,271.79 L414.80,271.74 L415.05,271.63 L415.30,271.49 L415.55,271.35 L415.80,271.24 L416.05,271.16 L416.30,271.11 L416.55,271.06 L416.80,270.97 L417.05,270.78 L417.30,270.40 L417.55,269.76 L417.80,268.79 L418.05,267.41 L418.30,265.57 L418.55,263.27 L418.80,260.60 L419.05,257.79 L419.30,255.26 L419.55,253.64 L419.80,253.51 L420.05,254.89 L420.30,257.27 L420.55,259.98 L420.80,262.57 L421.05,264.78 L421.30,266.56 L421.55,267.91 L421.80,268.89 L422.05,269.58 L422.30,270.08 L422.55,270.45 L422.80,270.74 L423.05,270.95 L423.30,271.11 L423.55,271.22 L423.80,271.27 L424.05,271.30 L424.30,271.32 L424.55,271.33 L424.80,271.33 L425.05,271.33 L425.30,271.32 L425.55,271.30 L425.80,271.26 L426.05,271.23 L426.30,271.20 L426.55,271.19 L426.80,271.21 L427.05,271.25 L427.30,271.33 L427.55,271.44 L427.80,271.57 L428.05,271.69 L428.30,271.80 L428.55,271.87 L428.80,271.90 L429.05,271.92 L429.30,271.91 L429.55,271.89 L429.80,271.86 L430.05,271.80 L430.30,271.73 L430.55,271.68 L430.80,271.64 L431.05,271.65 L431.30,271.68 L431.55,271.72 L431.80,271.78 L432.05,271.85 L432.30,271.94 L432.55,272.02 L432.80,272.08 L433.05,272.08 L433.30,272.01 L433.55,271.84 L433.80,271.55 L434.05,271.11 L434.30,270.49 L434.55,269.64 L434.80,268.54 L435.05,267.17 L435.30,265.59 L435.55,263.88 L435.80,262.24 L436.05,261.02 L436.30,260.60 L436.55,261.18 L436.80,262.52 L437.05,264.21 L437.30,265.90 L437.55,267.38 L437.80,268.60 L438.05,269.57 L438.30,270.33 L438.55,270.91 L438.80,271.35 L439.05,271.66 L439.30,271.84 L439.55,271.93 L439.80,271.95 L440.05,271.93 L440.30,271.87 L440.55,271.76 L440.80,271.62 L441.05,271.48 L441.30,271.38 L441.55,271.35 L441.80,271.41 L442.05,271.54 L442.30,271.71 L442.55,271.89 L442.80,272.05 L443.05,272.17 L443.30,272.25 L443.55,272.27 L443.80,272.27 L444.05,272.24 L444.30,272.22 L444.55,272.23 L444.80,272.29 L445.05,272.40 L445.30,272.55 L445.55,272.74 L445.80,272.92 L446.05,273.06 L446.30,273.13 L446.55,273.13 L446.80,273.06 L447.05,272.94 L447.30,272.78 L447.55,272.60 L447.80,272.45 L448.05,272.33 L448.30,272.25 L448.55,272.21 L448.80,272.19 L449.05,272.20 L449.30,272.21 L449.55,272.23 L449.80,272.27 L450.05,272.31 L450.30,272.34 L450.55,272.35 L450.80,272.31 L451.05,272.23 L451.30,272.12 L451.55,272.02 L451.80,271.94 L452.05,271.91 L452.30,271.92 L452.55,271.98 L452.80,272.07 L453.05,272.16 L453.30,272.24 L453.55,272.29 L453.80,272.33 L454.05,272.34 L454.30,272.35 L454.55,272.36 L454.80,272.39 L455.05,272.43 L455.30,272.47 L455.55,272.51 L455.80,272.51 L456.05,272.47 L456.30,272.39 L456.55,272.29 L456.80,272.17 L457.05,272.07 L457.30,272.01 L457.55,271.97 L457.80,271.96 L458.05,271.97 L458.30,271.98" fill="none" stroke="#47a64f" stroke-width="1.25" stroke-linejoin="round"/>
<path d="M0.00,363.76 L0.25,363.75 L0.50,363.75 L0.75,363.74 L1.00,363.73 L1.25,363.73 L1.50,363.72 L1.75,363.71 L2.00,363.71 L2.25,363.70 L2.50,363.69 L2.75,363.68 L3.00,363.68 L3.25,363.67 L3.50,363.66 L3.75,363.65 L4.00,363.64 L4.25,363.64 L4.50,363.63 L4.75,363.62 L5.00,363.61 L5.25,363.60 L5.50,363.59 L5.75,363.58 L6.00,363.57 L6.25,363.56 L6.50,363.55 L6.75,363.54 L7.00,363.53 L7.25,363.52 L7.50,363.51 L7.75,363.49 L8.00,363.48 L8.25,363.47 L8.50,363.46 L8.75,363.44 L9.00,363.43 L9.25,363.42 L9.50,363.40 L9.75,363.39 L10.00,363.37 L10.25,363.36 L10.50,363.34 L10.75,363.33 L11.00,363.31 L11.25,363.29 L11.50,363.28 L11.75,363.26 L12.00,363.24 L12.25,363.22 L12.50,363.20 L12.75,363.18 L13.00,363.16 L13.25,363.14 L13.50,363.12 L13.75,363.10 L14.00,363.08 L14.25,363.05 L14.50,363.03 L14.75,363.00 L15.00,362.98 L15.25,362.95 L15.50,362.92 L15.75,362.90 L16.00,362.87 L16.25,362.84 L16.50,362.81 L16.75,362.78 L17.00,362.74 L17.25,362.71 L17.50,362.68 L17.75,362.64 L18.00,362.60 L18.25,362.56 L18.50,362.53 L18.75,362.49 L19.00,362.44 L19.25,362.40 L19.50,362.36 L19.75,362.31 L20.00,362.26 L20.25,362.21 L20.50,362.16 L20.75,362.11 L21.00,362.06 L21.25,362.00 L21.50,361.94 L21.75,361.88 L22.00,361.82 L22.25,361.76 L22.50,361.69 L22.75,361.62 L23.00,361.55 L23.25,361.48 L23.50,361.40 L23.75,361.33 L24.00,361.25 L24.25,361.16 L24.50,361.08 L24.75,360.99 L25.00,360.90 L25.25,360.81 L25.50,360.71 L25.75,360.61 L26.00,360.51 L26.25,360.41 L26.50,360.30 L26.75,360.19 L27.00,360.08 L27.25,359.97 L27.50,359.85 L27.75,359.74 L28.00,359.62 L28.25,359.50 L28.50,359.37 L28.75,359.25 L29.00,359.13 L29.25,359.00 L29.50,358.88 L29.75,358.75 L30.00,358.63 L30.25,358.51 L30.50,358.39 L30.75,358.27 L31.00,358.16 L31.25,358.05 L31.50,357.95 L31.75,357.85 L32.00,357.76 L32.25,357.67 L32.50,357.59 L32.75,357.52 L33.00,357.46 L33.25,357.41 L33.50,357.37 L33.75,357.34 L34.00,357.31 L34.25,357.30 L34.50,357.30 L34.75,357.31 L35.00,357.33 L35.25,357.36 L35.50,357.40 L35.75,357.45 L36.00,357.51 L36.25,357.58 L36.50,357.66 L36.75,357.74 L37.00,357.83 L37.25,357.93 L37.50,358.03 L37.75,358.14 L38.00,358.25 L38.25,358.37 L38.50,358.49 L38.75,358.61 L39.00,358.73 L39.25,358.85 L39.50,358.98 L39.75,359.10 L40.00,359.23 L40.25,359.35 L40.50,359.47 L40.75,359.59 L41.00,359.71 L41.25,359.83 L41.50,359.95 L41.75,360.06 L42.00,360.17 L42.25,360.28 L42.50,360.39 L42.75,360.49 L43.00,360.59 L43.25,360.69 L43.50,360.79 L43.75,360.88 L44.00,360.97 L44.25,361.06 L44.50,361.15 L44.75,361.23 L45.00,361.31 L45.25,361.39 L45.50,361.46 L45.75,361.54 L46.00,361.61 L46.25,361.68 L46.50,361.74 L46.75,361.81 L47.00,361.87 L47.25,361.93 L47.50,361.99 L47.75,362.04 L48.00,362.10 L48.25,362.15 L48.50,362.20 L48.75,362.25 L49.00,362.30 L49.25,362.35 L49.50,362.39 L49.75,362.43 L50.00,362.48 L50.25,362.52 L50.50,362.56 L50.75,362.60 L51.00,362.63 L51.25,362.67 L51.50,362.70 L51.75,362.74 L52.00,362.77 L52.25,362.80 L52.50,362.83 L52.75,362.86 L53.00,362.89 L53.25,362.92 L53.50,362.95 L53.75,362.97 L54.00,363.00 L54.25,363.02 L54.50,363.05 L54.75,363.07 L55.00,363.09 L55.25,363.12 L55.50,363.14 L55.75,363.16 L56.00,363.18 L56.25,363.20 L56.50,363.22 L56.75,363.24 L57.00,363.26 L57.25,363.27 L57.50,363.29 L57.75,363.31 L58.00,363.32 L58.25,363.34 L58.50,363.36 L58.75,363.37 L59.00,363.39 L59.25,363.40 L59.50,363.41 L59.75,363.43 L60.00,363.44 L60.25,363.45 L60.50,363.47 L60.75,363.48 L61.00,363.49 L61.25,363.50 L61.50,363.51 L61.75,363.53 L62.00,363.54 L62.25,363.55 L62.50,363.56 L62.75,363.57 L63.00,363.58 L63.25,363.59 L63.50,363.60 L63.75,363.61 L64.00,363.62 L64.25,363.63 L64.50,363.63 L64.75,363.64 L65.00,363.65 L65.25,363.66 L65.50,363.67 L65.75,363.67 L66.00,363.68 L66.25,363.69 L66.50,363.70 L66.75,363.70 L67.00,363.71 L67.25,363.72 L67.50,363.72 L67.75,363.73 L68.00,363.74 L68.25,363.74 L68.50,363.75 L68.75,363.76 L69.00,363.76 L69.25,363.77 L69.50,363.77 L69.75,363.78 L70.00,363.79 L70.25,363.79 L70.50,363.80 L70.75,363.80 L71.00,363.81 L71.25,363.81 L71.50,363.82 L71.75,363.82 L72.00,363.83 L72.25,363.83 L72.50,363.84 L72.75,363.84 L73.00,363.84 L73.25,363.85 L73.50,363.85 L73.75,363.86 L74.00,363.86 L74.25,363.87 L74.50,363.87 L74.75,363.87 L75.00,363.88 L75.25,363.88 L75.50,363.88 L75.75,363.89 L76.00,363.89 L76.25,363.89 L76.50,363.90 L76.75,363.90 L77.00,363.91 L77.25,363.91 L77.50,363.91 L77.75,363.91 L78.00,363.92 L78.25,363.92 L78.50,363.92 L78.75,363.93 L79.00,363.93 L79.25,363.93 L79.50,363.94 L79.75,363.94 L80.00,363.94 L80.25,363.94 L80.50,363.95 L80.75,363.95" fill="none" stroke="#ad4853" stroke-width="1.25" stroke-linejoin="round"/>
<path d="M84.50,363.74 L84.75,363.80 L85.00,363.83 L85.25,363.82 L85.50,363.78 L85.75,363.73 L86.00,363.66 L86.25,363.61 L86.50,363.55 L86.75,363.50 L87.00,363.45 L87.25,363.38 L87.50,363.29 L87.75,363.20 L88.00,363.11 L88.25,363.04 L88.50,363.02 L88.75,363.04 L89.00,363.09 L89.25,363.15 L89.50,363.19 L89.75,363.21 L90.00,363.20 L90.25,363.16 L90.50,363.10 L90.75,363.02 L91.00,362.92 L91.25,362.79 L91.50,362.64 L91.75,362.49 L92.00,362.34 L92.25,362.22 L92.50,362.14 L92.75,362.09 L93.00,362.11 L93.25,362.17 L93.50,362.27 L93.75,362.39 L94.00,362.50 L94.25,362.60 L94.50,362.67 L94.75,362.70 L95.00,362.70 L95.25,362.66 L95.50,362.58 L95.75,362.49 L96.00,362.39 L96.25,362.30 L96.50,362.22 L96.75,362.15 L97.00,362.08 L97.25,362.00 L97.50,361.92 L97.75,361.81 L98.00,361.71 L98.25,361.63 L98.50,361.59 L98.75,361.62 L99.00,361.71 L99.25,361.81 L99.50,361.91 L99.75,361.96 L100.00,361.94 L100.25,361.88 L100.50,361.78 L100.75,361.65 L101.00,361.51 L101.25,361.35 L101.50,361.18 L101.75,361.02 L102.00,360.89 L102.25,360.81 L102.50,360.79 L102.75,360.81 L103.00,360.87 L103.25,360.96 L103.50,361.03 L103.75,361.10 L104.00,361.16 L104.25,361.22 L104.50,361.26 L104.75,361.28 L105.00,361.25 L105.25,361.16 L105.50,361.00 L105.75,360.80 L106.00,360.58 L106.25,360.35 L106.50,360.13 L106.75,359.96 L107.00,359.83 L107.25,359.75 L107.50,359.71 L107.75,359.65 L108.00,359.55 L108.25,359.38 L108.50,359.12 L108.75,358.82 L109.00,358.50 L109.25,358.19 L109.50,357.92 L109.75,357.67 L110.00,357.41 L110.25,357.13 L110.50,356.77 L110.75,356.29 L111.00,355.62 L111.25,354.75 L111.50,353.63 L111.75,352.22 L112.00,350.47 L112.25,348.30 L112.50,345.63 L112.75,342.33 L113.00,338.34 L113.25,333.67 L113.50,328.59 L113.75,323.77 L114.00,320.30 L114.25,319.28 L114.50,321.05 L114.75,324.92 L115.00,329.77 L115.25,334.63 L115.50,338.98 L115.75,342.64 L116.00,345.57 L116.25,347.84 L116.50,349.53 L116.75,350.76 L117.00,351.64 L117.25,352.26 L117.50,352.71 L117.75,353.05 L118.00,353.28 L118.25,353.39 L118.50,353.36 L118.75,353.18 L119.00,352.82 L119.25,352.28 L119.50,351.54 L119.75,350.56 L120.00,349.26 L120.25,347.53 L120.50,345.27 L120.75,342.38 L121.00,338.83 L121.25,334.75 L121.50,330.52 L121.75,326.89 L122.00,324.89 L122.25,325.24 L122.50,327.85 L122.75,331.85 L123.00,336.25 L123.25,340.39 L123.50,343.99 L123.75,346.99 L124.00,349.43 L124.25,351.38 L124.50,352.92 L124.75,354.09 L125.00,354.98 L125.25,355.67 L125.50,356.20 L125.75,356.66 L126.00,357.04 L126.25,357.39 L126.50,357.68 L126.75,357.92 L127.00,358.11 L127.25,358.23 L127.50,358.31 L127.75,358.34 L128.00,358.34 L128.25,358.30 L128.50,358.23 L128.75,358.14 L129.00,358.06 L129.25,358.01 L129.50,358.00 L129.75,358.05 L130.00,358.11 L130.25,358.16 L130.50,358.18 L130.75,358.15 L131.00,358.10 L131.25,358.02 L131.50,357.93 L131.75,357.84 L132.00,357.74 L132.25,357.66 L132.50,357.59 L132.75,357.55 L133.00,357.53 L133.25,357.51 L133.50,357.50 L133.75,357.51 L134.00,357.53 L134.25,357.57 L134.50,357.60 L134.75,357.61 L135.00,357.58 L135.25,357.50 L135.50,357.33 L135.75,356.99 L136.00,356.31 L136.25,355.15 L136.50,353.74 L136.75,353.17 L137.00,354.03 L137.25,355.22 L137.50,356.01 L137.75,356.39 L138.00,356.54 L138.25,356.61 L138.50,356.63 L138.75,356.62 L139.00,356.57 L139.25,356.47 L139.50,356.29 L139.75,356.01 L140.00,355.53 L140.25,354.76 L140.50,353.87 L140.75,353.48 L141.00,353.93 L141.25,354.58 L141.50,355.00 L141.75,355.20 L142.00,355.27 L142.25,355.29 L142.50,355.32 L142.75,355.36 L143.00,355.41 L143.25,355.43 L143.50,355.42 L143.75,355.36 L144.00,355.24 L144.25,355.03 L144.50,354.62 L144.75,353.88 L145.00,352.84 L145.25,352.03 L145.50,352.29 L145.75,353.17 L146.00,353.85 L146.25,354.17 L146.50,354.23 L146.75,354.16 L147.00,354.04 L147.25,353.90 L147.50,353.75 L147.75,353.62 L148.00,353.49 L148.25,353.28 L148.50,352.89 L148.75,352.14 L149.00,351.04 L149.25,350.16 L149.50,350.45 L149.75,351.39 L150.00,352.10 L150.25,352.42 L150.50,352.45 L150.75,352.38 L151.00,352.28 L151.25,352.18 L151.50,352.06 L151.75,351.92 L152.00,351.72 L152.25,351.44 L152.50,351.01 L152.75,350.33 L153.00,349.42 L153.25,348.69 L153.50,348.78 L153.75,349.30 L154.00,349.54 L154.25,349.32 L154.50,348.58 L154.75,347.24 L155.00,345.06 L155.25,341.74 L155.50,336.95 L155.75,330.58 L156.00,322.82 L156.25,314.50 L156.50,307.35 L156.75,303.90 L157.00,305.89 L157.25,312.52 L157.50,321.35 L157.75,330.24 L158.00,338.00 L158.25,344.18 L158.50,348.80 L158.75,352.07 L159.00,354.32 L159.25,355.85 L159.50,356.87 L159.75,357.60 L160.00,358.14 L160.25,358.58 L160.50,358.97 L160.75,359.33 L161.00,359.64 L161.25,359.90 L161.50,360.11 L161.75,360.28 L162.00,360.39 L162.25,360.46 L162.50,360.47 L162.75,360.43 L163.00,360.35 L163.25,360.25 L163.50,360.14 L163.75,360.03 L164.00,359.90 L164.25,359.76 L164.50,359.59 L164.75,359.38 L165.00,359.11 L165.25,358.77 L165.50,358.34 L165.75,357.79 L166.00,357.13 L166.25,356.34 L166.50,355.43 L166.75,354.39 L167.00,353.24 L167.25,351.98 L167.50,350.59 L167.75,349.01 L168.00,347.17 L168.25,344.99 L168.50,342.39 L168.75,339.32 L169.00,335.74 L169.25,331.63 L169.50,327.03 L169.75,321.99 L170.00,316.68 L170.25,311.31 L170.50,306.22 L170.75,301.86 L171.00,298.74 L171.25,297.29 L171.50,297.74 L171.75,300.03 L172.00,303.84 L172.25,308.67 L172.50,314.03 L172.75,319.47 L173.00,324.69 L173.25,329.50 L173.50,333.82 L173.75,337.65 L174.00,341.00 L174.25,343.90 L174.50,346.38 L174.75,348.49 L175.00,350.27 L175.25,351.76 L175.50,353.03 L175.75,354.11 L176.00,355.02 L176.25,355.78 L176.50,356.42 L176.75,356.97 L177.00,357.45 L177.25,357.90 L177.50,358.31 L177.75,358.68 L178.00,359.02 L178.25,359.31 L178.50,359.56 L178.75,359.76 L179.00,359.90 L179.25,360.01 L179.50,360.09 L179.75,360.16 L180.00,360.23 L180.25,360.34 L180.50,360.49 L180.75,360.69 L181.00,360.93 L181.25,361.22 L181.50,361.51 L181.75,361.79 L182.00,362.01 L182.25,362.15 L182.50,362.22 L182.75,362.24 L183.00,362.21 L183.25,362.15 L183.50,362.10 L183.75,362.05 L184.00,362.04 L184.25,362.07 L184.50,362.15 L184.75,362.24 L185.00,362.34 L185.25,362.42 L185.50,362.47 L185.75,362.48 L186.00,362.47 L186.25,362.45 L186.50,362.44 L186.75,362.43 L187.00,362.45 L187.25,362.49 L187.50,362.55 L187.75,362.62 L188.00,362.69 L188.25,362.75 L188.50,362.79 L188.75,362.83 L189.00,362.87 L189.25,362.93 L189.50,363.00 L189.75,363.08 L190.00,363.16 L190.25,363.23 L190.50,363.27 L190.75,363.27 L191.00,363.26 L191.25,363.22 L191.50,363.18 L191.75,363.15 L192.00,363.12 L192.25,363.11 L192.50,363.11 L192.75,363.14 L193.00,363.20 L193.25,363.30 L193.50,363.42 L193.75,363.54 L194.00,363.64 L194.25,363.68 L194.50,363.69 L194.75,363.67 L195.00,363.65 L195.25,363.66 L195.50,363.70 L195.75,363.77 L196.00,363.85 L196.25,363.92 L196.50,363.95 L196.75,363.93 L197.00,363.83 L197.25,363.66 L197.50,363.45 L197.75,363.24 L198.00,363.06 L198.25,362.96 L198.50,362.94 L198.75,363.01 L199.00,363.14 L199.25,363.31 L199.50,363.48 L199.75,363.61 L200.00,363.68 L200.25,363.68 L200.50,363.64 L200.75,363.58 L201.00,363.54 L201.25,363.56 L201.50,363.65 L201.75,363.79 L202.00,363.94 L202.25,364.08 L202.50,364.16 L202.75,364.17 L203.00,364.15 L203.25,364.11 L203.50,364.08 L203.75,364.08 L204.00,364.11 L204.25,364.16 L204.50,364.20 L204.75,364.21 L205.00,364.15 L205.25,364.01 L205.50,363.81 L205.75,363.60 L206.00,363.42 L206.25,363.30 L206.50,363.27 L206.75,363.34 L207.00,363.46 L207.25,363.61 L207.50,363.74 L207.75,363.82 L208.00,363.83 L208.25,363.76 L208.50,363.66 L208.75,363.55 L209.00,363.47 L209.25,363.41 L209.50,363.40 L209.75,363.43 L210.00,363.49 L210.25,363.57 L210.50,363.67 L210.75,363.76 L211.00,363.83 L211.25,363.89 L211.50,363.93 L211.75,363.95 L212.00,363.95 L212.25,363.94 L212.50,363.89 L212.75,363.83 L213.00,363.74 L213.25,363.66 L213.50,363.60 L213.75,363.57 L214.00,363.57 L214.25,363.60 L214.50,363.67 L214.75,363.75 L215.00,363.86 L215.25,363.97 L215.50,364.07 L215.75,364.15 L216.00,364.18 L216.25,364.16 L216.50,364.09 L216.75,363.98 L217.00,363.84 L217.25,363.69 L217.50,363.55 L217.75,363.43 L218.00,363.36 L218.25,363.37 L218.50,363.48 L218.75,363.68 L219.00,363.92 L219.25,364.17 L219.50,364.37 L219.75,364.50 L220.00,364.55 L220.25,364.55 L220.50,364.50 L220.75,364.45 L221.00,364.41 L221.25,364.40 L221.50,364.39 L221.75,364.37 L222.00,364.32 L222.25,364.22 L222.50,364.07 L222.75,363.89 L223.00,363.70 L223.25,363.52 L223.50,363.39 L223.75,363.32 L224.00,363.31 L224.25,363.36 L224.50,363.41 L224.75,363.44 L225.00,363.43 L225.25,363.38 L225.50,363.29 L225.75,363.20 L226.00,363.11 L226.25,363.04 L226.50,362.96 L226.75,362.87 L227.00,362.75 L227.25,362.55 L227.50,362.24 L227.75,361.78 L228.00,361.07 L228.25,359.89 L228.50,357.63 L228.75,353.11 L229.00,344.67 L229.25,331.33 L229.50,315.11 L229.75,304.49 L230.00,309.48 L230.25,324.90 L230.50,339.88 L230.75,350.18 L231.00,355.95 L231.25,358.81 L231.50,360.23 L231.75,361.06 L232.00,361.67 L232.25,362.18 L232.50,362.62 L232.75,363.00 L233.00,363.29 L233.25,363.50 L233.50,363.61 L233.75,363.66 L234.00,363.66 L234.25,363.63 L234.50,363.60 L234.75,363.57 L235.00,363.54 L235.25,363.53 L235.50,363.53 L235.75,363.54 L236.00,363.57 L236.25,363.60 L236.50,363.65 L236.75,363.71 L237.00,363.79 L237.25,363.87 L237.50,363.96 L237.75,364.06 L238.00,364.14 L238.25,364.22 L238.50,364.28 L238.75,364.33 L239.00,364.36 L239.25,364.39 L239.50,364.40 L239.75,364.39 L240.00,364.37 L240.25,364.33 L240.50,364.27 L240.75,364.19 L241.00,364.11 L241.25,364.05 L241.50,364.01 L241.75,363.99 L242.00,363.99 L242.25,363.99 L242.50,364.00 L242.75,364.01 L243.00,364.01 L243.25,364.04 L243.50,364.06 L243.75,364.10 L244.00,364.13 L244.25,364.13 L244.50,364.13 L244.75,364.12 L245.00,364.12 L245.25,364.14 L245.50,364.16 L245.75,364.17 L246.00,364.16 L246.25,364.12 L246.50,364.08 L246.75,364.05 L247.00,364.04 L247.25,364.07 L247.50,364.13 L247.75,364.18 L248.00,364.21 L248.25,364.19 L248.50,364.13 L248.75,364.03 L249.00,363.91 L249.25,363.79 L249.50,363.70 L249.75,363.63 L250.00,363.59 L250.25,363.58 L250.50,363.63 L250.75,363.72 L251.00,363.85 L251.25,364.00 L251.50,364.13 L251.75,364.23 L252.00,364.28 L252.25,364.28 L252.50,364.21 L252.75,364.09 L253.00,363.93" fill="none" stroke="#ad4853" stroke-width="1.25" stroke-linejoin="round"/>
<path d="M256.30,355.13 L256.55,357.24 L256.80,358.98 L257.05,360.29 L257.30,361.19 L257.55,361.80 L257.80,362.24 L258.05,362.61 L258.30,362.94 L258.55,363.25 L258.80,363.53 L259.05,363.75 L259.30,363.91 L259.55,364.03 L259.80,364.13 L260.05,364.21 L260.30,364.29 L260.55,364.35 L260.80,364.40 L261.05,364.43 L261.30,364.45 L261.55,364.48 L261.80,364.49 L262.05,364.50 L262.30,364.48 L262.55,364.46 L262.80,364.41 L263.05,364.37 L263.30,364.33 L263.55,364.31 L263.80,364.28 L264.05,364.25 L264.30,364.24 L264.55,364.25 L264.80,364.28 L265.05,364.33 L265.30,364.39 L265.55,364.43 L265.80,364.44 L266.05,364.41 L266.30,364.35 L266.55,364.25 L266.80,364.11 L267.05,363.96 L267.30,363.81 L267.55,363.67 L267.80,363.57 L268.05,363.51 L268.30,363.49 L268.55,363.50 L268.80,363.54 L269.05,363.59 L269.30,363.64 L269.55,363.70 L269.80,363.76 L270.05,363.83 L270.30,363.91 L270.55,363.99 L270.80,364.08 L271.05,364.15 L271.30,364.21 L271.55,364.25 L271.80,364.27 L272.05,364.28 L272.30,364.28 L272.55,364.25 L272.80,364.20 L273.05,364.14 L273.30,364.09 L273.55,364.04 L273.80,364.02 L274.05,364.01 L274.30,364.00 L274.55,363.99 L274.80,363.97 L275.05,363.98 L275.30,364.03 L275.55,364.13 L275.80,364.27 L276.05,364.41 L276.30,364.54 L276.55,364.60 L276.80,364.61 L277.05,364.57 L277.30,364.51 L277.55,364.43 L277.80,364.35 L278.05,364.27 L278.30,364.18 L278.55,364.08 L278.80,363.97 L279.05,363.86 L279.30,363.77 L279.55,363.72 L279.80,363.72 L280.05,363.78 L280.30,363.88 L280.55,363.99 L280.80,364.12 L281.05,364.23 L281.30,364.32 L281.55,364.38 L281.80,364.43 L282.05,364.46 L282.30,364.45 L282.55,364.41 L282.80,364.33 L283.05,364.24 L283.30,364.16 L283.55,364.08 L283.80,364.04 L284.05,364.02 L284.30,364.03 L284.55,364.04 L284.80,364.04 L285.05,364.00 L285.30,363.94 L285.55,363.85 L285.80,363.73 L286.05,363.56 L286.30,363.11 L286.55,361.75 L286.80,358.97 L287.05,357.65 L287.30,360.40 L287.55,362.79 L287.80,363.72 L288.05,363.97 L288.30,364.02 L288.55,364.01 L288.80,363.98 L289.05,363.94 L289.30,363.91 L289.55,363.88 L289.80,363.86 L290.05,363.88 L290.30,363.93 L290.55,364.02 L290.80,364.12 L291.05,364.20 L291.30,364.24 L291.55,364.25 L291.80,364.22 L292.05,364.18 L292.30,364.16 L292.55,364.16 L292.80,364.17 L293.05,364.19 L293.30,364.21 L293.55,364.20 L293.80,364.17 L294.05,364.11 L294.30,364.05 L294.55,363.98 L294.80,363.95 L295.05,363.97 L295.30,364.04 L295.55,364.15 L295.80,364.26 L296.05,364.36 L296.30,364.42 L296.55,364.43 L296.80,364.38 L297.05,364.30 L297.30,364.21 L297.55,364.13 L297.80,364.09 L298.05,364.09 L298.30,364.13 L298.55,364.20 L298.80,364.27 L299.05,364.35 L299.30,364.42 L299.55,364.49 L299.80,364.54 L300.05,364.56 L300.30,364.54 L300.55,364.47 L300.80,364.36 L301.05,364.21 L301.30,364.05 L301.55,363.90 L301.80,363.76 L302.05,363.64 L302.30,363.57 L302.55,363.54 L302.80,363.56 L303.05,363.63 L303.30,363.73 L303.55,363.86 L303.80,363.98 L304.05,364.10 L304.30,364.19 L304.55,364.25 L304.80,364.27 L305.05,364.27 L305.30,364.23 L305.55,364.16 L305.80,364.08 L306.05,364.00 L306.30,363.92 L306.55,363.85 L306.80,363.81 L307.05,363.81 L307.30,363.86 L307.55,363.96 L307.80,364.10 L308.05,364.22 L308.30,364.30 L308.55,364.33 L308.80,364.30 L309.05,364.23 L309.30,364.14 L309.55,364.04 L309.80,363.94 L310.05,363.84 L310.30,363.78 L310.55,363.76 L310.80,363.79 L311.05,363.88 L311.30,364.02 L311.55,364.18 L311.80,364.35 L312.05,364.48 L312.30,364.57 L312.55,364.58 L312.80,364.52 L313.05,364.41 L313.30,364.27 L313.55,364.15 L313.80,364.03 L314.05,363.96 L314.30,363.94 L314.55,363.93 L314.80,363.94 L315.05,363.95 L315.30,363.95 L315.55,363.93 L315.80,363.88 L316.05,363.83 L316.30,363.76 L316.55,363.67 L316.80,363.59 L317.05,363.54 L317.30,363.53 L317.55,363.56 L317.80,363.60 L318.05,363.64 L318.30,363.65 L318.55,363.61 L318.80,363.55 L319.05,363.49 L319.30,363.44 L319.55,363.39 L319.80,363.35 L320.05,363.29 L320.30,363.20 L320.55,363.11 L320.80,363.00 L321.05,362.90 L321.30,362.80 L321.55,362.73 L321.80,362.65 L322.05,362.57 L322.30,362.49 L322.55,362.41 L322.80,362.35 L323.05,362.30 L323.30,362.28 L323.55,362.27 L323.80,362.27 L324.05,362.27 L324.30,362.26 L324.55,362.24 L324.80,362.23 L325.05,362.21 L325.30,362.18 L325.55,362.11 L325.80,362.00 L326.05,361.87 L326.30,361.71 L326.55,361.51 L326.80,361.28 L327.05,361.00 L327.30,360.66 L327.55,360.27 L327.80,359.84 L328.05,359.39 L328.30,358.90 L328.55,358.38 L328.80,357.82 L329.05,357.18 L329.30,356.46 L329.55,355.61 L329.80,354.60 L330.05,353.36 L330.30,351.83 L330.55,349.93 L330.80,347.57 L331.05,344.61 L331.30,340.92 L331.55,336.36 L331.80,330.82 L332.05,324.24 L332.30,316.66 L332.55,308.36 L332.80,299.94 L333.05,292.50 L333.30,287.44 L333.55,286.01 L333.80,288.58 L334.05,294.40 L334.30,302.11 L334.55,310.39 L334.80,318.36 L335.05,325.56 L335.30,331.81 L335.55,337.10 L335.80,341.50 L336.05,345.09 L336.30,347.98 L336.55,350.26 L336.80,352.02 L337.05,353.34 L337.30,354.26 L337.55,354.79 L337.80,354.87 L338.05,354.42 L338.30,353.43 L338.55,352.00 L338.80,350.57 L339.05,349.94 L339.30,350.81 L339.55,352.86 L339.80,355.20 L340.05,357.25 L340.30,358.79 L340.55,359.83 L340.80,360.45 L341.05,360.80 L341.30,360.98 L341.55,361.08 L341.80,361.16 L342.05,361.23 L342.30,361.31 L342.55,361.41 L342.80,361.52 L343.05,361.64 L343.30,361.72 L343.55,361.69 L343.80,361.47 L344.05,361.02 L344.30,360.32 L344.55,359.53 L344.80,358.99 L345.05,359.04 L345.30,359.64 L345.55,360.46 L345.80,361.20 L346.05,361.78 L346.30,362.18 L346.55,362.43 L346.80,362.59 L347.05,362.69 L347.30,362.74 L347.55,362.77 L347.80,362.78 L348.05,362.76 L348.30,362.72 L348.55,362.64 L348.80,362.51 L349.05,362.28 L349.30,361.96 L349.55,361.53 L349.80,361.08 L350.05,360.81 L350.30,360.90 L350.55,361.29 L350.80,361.78 L351.05,362.23 L351.30,362.58 L351.55,362.81 L351.80,362.94 L352.05,362.98 L352.30,362.99 L352.55,362.98 L352.80,362.98 L353.05,362.99 L353.30,363.03 L353.55,363.06 L353.80,363.08 L354.05,363.09 L354.30,363.08 L354.55,363.06 L354.80,363.05 L355.05,363.05 L355.30,363.04 L355.55,363.04 L355.80,363.05 L356.05,363.03 L356.30,363.01 L356.55,362.97 L356.80,362.91 L357.05,362.82 L357.30,362.72 L357.55,362.62 L357.80,362.54 L358.05,362.49 L358.30,362.48 L358.55,362.50 L358.80,362.55 L359.05,362.60 L359.30,362.66 L359.55,362.72 L359.80,362.78 L360.05,362.84 L360.30,362.91 L360.55,362.97 L360.80,363.03 L361.05,363.05 L361.30,363.05 L361.55,363.01 L361.80,362.94 L362.05,362.85 L362.30,362.75 L362.55,362.63 L362.80,362.50 L363.05,362.35 L363.30,362.21 L363.55,362.06 L363.80,361.91 L364.05,361.75 L364.30,361.60 L364.55,361.45 L364.80,361.33 L365.05,361.22 L365.30,361.13 L365.55,361.02 L365.80,360.88 L366.05,360.68 L366.30,360.42 L366.55,360.14 L366.80,359.86 L367.05,359.62 L367.30,359.42 L367.55,359.25 L367.80,359.08 L368.05,358.88 L368.30,358.59 L368.55,358.21 L368.80,357.73 L369.05,357.15 L369.30,356.47 L369.55,355.71 L369.80,354.90 L370.05,354.03 L370.30,353.09 L370.55,352.08 L370.80,350.95 L371.05,349.66 L371.30,348.14 L371.55,346.39 L371.80,344.36 L372.05,342.06 L372.30,339.50 L372.55,336.71 L372.80,333.75 L373.05,330.67 L373.30,327.58 L373.55,324.62 L373.80,321.99 L374.05,319.92 L374.30,318.60 L374.55,318.15 L374.80,318.54 L375.05,319.59 L375.30,321.06 L375.55,322.66 L375.80,324.15 L376.05,325.32 L376.30,326.00 L376.55,326.08 L376.80,325.50 L377.05,324.30 L377.30,322.68 L377.55,321.02 L377.80,319.92 L378.05,319.98 L378.30,321.56 L378.55,324.52 L378.80,328.35 L379.05,332.45 L379.30,336.40 L379.55,339.93 L379.80,342.90 L380.05,345.26 L380.30,346.98 L380.55,348.08 L380.80,348.60 L381.05,348.66 L381.30,348.46 L381.55,348.32 L381.80,348.65 L382.05,349.68 L382.30,351.22 L382.55,352.91 L382.80,354.50 L383.05,355.85 L383.30,356.94 L383.55,357.80 L383.80,358.49 L384.05,359.06 L384.30,359.52 L384.55,359.92 L384.80,360.26 L385.05,360.55 L385.30,360.81 L385.55,361.06 L385.80,361.29 L386.05,361.48 L386.30,361.64 L386.55,361.75 L386.80,361.81 L387.05,361.83 L387.30,361.81 L387.55,361.79 L387.80,361.79 L388.05,361.79 L388.30,361.80 L388.55,361.82 L388.80,361.84 L389.05,361.83 L389.30,361.81 L389.55,361.78 L389.80,361.72 L390.05,361.60 L390.30,361.38 L390.55,361.05 L390.80,360.59 L391.05,360.06 L391.30,359.60 L391.55,359.38 L391.80,359.51 L392.05,359.96 L392.30,360.56 L392.55,361.17 L392.80,361.73 L393.05,362.21 L393.30,362.61 L393.55,362.90 L393.80,363.08 L394.05,363.17 L394.30,363.18 L394.55,363.15 L394.80,363.11 L395.05,363.12 L395.30,363.17 L395.55,363.26 L395.80,363.37 L396.05,363.46 L396.30,363.50 L396.55,363.49 L396.80,363.45 L397.05,363.38 L397.30,363.31 L397.55,363.26 L397.80,363.23 L398.05,363.24 L398.30,363.27 L398.55,363.31 L398.80,363.31 L399.05,363.25 L399.30,363.05 L399.55,362.65 L399.80,362.04 L400.05,361.30 L400.30,360.62 L400.55,360.37 L400.80,360.65 L401.05,361.25 L401.30,361.87 L401.55,362.37 L401.80,362.70 L402.05,362.88 L402.30,362.97 L402.55,363.03 L402.80,363.09 L403.05,363.17 L403.30,363.28 L403.55,363.39 L403.80,363.50 L404.05,363.59 L404.30,363.65 L404.55,363.68 L404.80,363.69 L405.05,363.70 L405.30,363.70 L405.55,363.73 L405.80,363.77 L406.05,363.84 L406.30,363.93 L406.55,364.01 L406.80,364.08 L407.05,364.13 L407.30,364.16 L407.55,364.16 L407.80,364.15 L408.05,364.12 L408.30,364.10 L408.55,364.08 L408.80,364.06 L409.05,364.04 L409.30,364.00 L409.55,363.96 L409.80,363.91 L410.05,363.87 L410.30,363.84 L410.55,363.85 L410.80,363.89 L411.05,363.97 L411.30,364.06 L411.55,364.13 L411.80,364.18 L412.05,364.18 L412.30,364.12 L412.55,364.01 L412.80,363.90 L413.05,363.77 L413.30,363.67 L413.55,363.60 L413.80,363.55 L414.05,363.54 L414.30,363.55 L414.55,363.58 L414.80,363.63 L415.05,363.71 L415.30,363.80 L415.55,363.90 L415.80,364.00 L416.05,364.07 L416.30,364.14 L416.55,364.18 L416.80,364.19 L417.05,364.19 L417.30,364.16 L417.55,364.10 L417.80,364.03 L418.05,363.95 L418.30,363.88 L418.55,363.81 L418.80,363.77 L419.05,363.75 L419.30,363.75 L419.55,363.76 L419.80,363.78 L420.05,363.79 L420.30,363.77 L420.55,363.75 L420.80,363.73 L421.05,363.73 L421.30,363.78 L421.55,363.87 L421.80,363.98 L422.05,364.08 L422.30,364.15 L422.55,364.14 L422.80,364.08 L423.05,363.97 L423.30,363.87 L423.55,363.79 L423.80,363.76 L424.05,363.78 L424.30,363.85 L424.55,363.93 L424.80,364.03 L425.05,364.13 L425.30,364.23 L425.55,364.29 L425.80,364.31 L426.05,364.27 L426.30,364.17 L426.55,364.03 L426.80,363.88 L427.05,363.75 L427.30,363.64 L427.55,363.59 L427.80,363.59 L428.05,363.62 L428.30,363.68 L428.55,363.74 L428.80,363.81 L429.05,363.84 L429.30,363.86 L429.55,363.88 L429.80,363.91 L430.05,363.93 L430.30,363.96 L430.55,363.97 L430.80,363.95 L431.05,363.92 L431.30,363.88 L431.55,363.86 L431.80,363.87 L432.05,363.92 L432.30,364.00 L432.55,364.09 L432.80,364.17 L433.05,364.24 L433.30,364.28 L433.55,364.28 L433.80,364.25 L434.05,364.19 L434.30,364.11 L434.55,364.02 L434.80,363.91 L435.05,363.82 L435.30,363.74 L435.55,363.66 L435.80,363.61 L436.05,363.59 L436.30,363.61 L436.55,363.67 L436.80,363.77 L437.05,363.89 L437.30,364.02 L437.55,364.11 L437.80,364.13 L438.05,364.09 L438.30,363.99 L438.55,363.85 L438.80,363.71 L439.05,363.62 L439.30,363.59 L439.55,363.64 L439.80,363.75 L440.05,363.89 L440.30,364.01 L440.55,364.10 L440.80,364.12 L441.05,364.09 L441.30,364.04 L441.55,363.99 L441.80,363.97 L442.05,363.98 L442.30,364.01 L442.55,364.06 L442.80,364.12 L443.05,364.19 L443.30,364.25 L443.55,364.30 L443.80,364.34 L444.05,364.35 L444.30,364.35 L444.55,364.31 L444.80,364.24 L445.05,364.15 L445.30,364.05 L445.55,363.98 L445.80,363.94 L446.05,363.92 L446.30,363.94 L446.55,363.97 L446.80,364.03 L447.05,364.11 L447.30,364.22 L447.55,364.33 L447.80,364.44 L448.05,364.51 L448.30,364.53 L448.55,364.51 L448.80,364.44 L449.05,364.34 L449.30,364.20 L449.55,364.05 L449.80,363.92 L450.05,363.82 L450.30,363.76 L450.55,363.77 L450.80,363.80 L451.05,363.85 L451.30,363.91 L451.55,363.97 L451.80,364.02 L452.05,364.08 L452.30,364.13 L452.55,364.17 L452.80,364.18 L453.05,364.18 L453.30,364.16 L453.55,364.15 L453.80,364.17 L454.05,364.20 L454.30,364.24 L454.55,364.30 L454.80,364.34 L455.05,364.35 L455.30,364.33 L455.55,364.27 L455.80,364.20 L456.05,364.15 L456.30,364.13 L456.55,364.18 L456.80,364.26 L457.05,364.37 L457.30,364.46 L457.55,364.52 L457.80,364.53 L458.05,364.48 L458.30,364.41" fill="none" stroke="#ad4853" stroke-width="1.25" stroke-linejoin="round"/>
<line x1="270.4" y1="184.9" x2="297.6" y2="265.6" stroke="#000" stroke-width="1.7" stroke-dasharray="3.5 2.2" stroke-linecap="butt"/>
<line x1="370.4" y1="183.2" x2="375.0" y2="240.6" stroke="#000" stroke-width="1.7" stroke-dasharray="3.5 2.2" stroke-linecap="butt"/>
<line x1="381.2" y1="183.2" x2="385.8" y2="253.2" stroke="#000" stroke-width="1.7" stroke-dasharray="3.5 2.2" stroke-linecap="butt"/>
<line x1="386.2" y1="183.2" x2="392.7" y2="236.6" stroke="#000" stroke-width="1.7" stroke-dasharray="3.5 2.2" stroke-linecap="butt"/>
<line x1="393.2" y1="183.2" x2="406.8" y2="255.6" stroke="#000" stroke-width="1.7" stroke-dasharray="3.5 2.2" stroke-linecap="butt"/>
<line x1="403.0" y1="183.2" x2="419.4" y2="251.6" stroke="#000" stroke-width="1.7" stroke-dasharray="3.5 2.2" stroke-linecap="butt"/>
<line x1="422.7" y1="183.2" x2="436.3" y2="258.4" stroke="#000" stroke-width="1.7" stroke-dasharray="3.5 2.2" stroke-linecap="butt"/>
<line x1="43.7" y1="272.8" x2="35.0" y2="355.6" stroke="#000" stroke-width="1.7" stroke-dasharray="3.5 2.2" stroke-linecap="butt"/>
<line x1="113.9" y1="272.8" x2="114.2" y2="318.4" stroke="#000" stroke-width="1.7" stroke-dasharray="3.5 2.2" stroke-linecap="butt"/>
<line x1="121.5" y1="272.8" x2="122.1" y2="323.6" stroke="#000" stroke-width="1.7" stroke-dasharray="3.5 2.2" stroke-linecap="butt"/>
<line x1="156.5" y1="272.8" x2="156.8" y2="302.8" stroke="#000" stroke-width="1.7" stroke-dasharray="3.5 2.2" stroke-linecap="butt"/>
<line x1="173.0" y1="272.8" x2="171.3" y2="296.6" stroke="#000" stroke-width="1.7" stroke-dasharray="3.5 2.2" stroke-linecap="butt"/>
<line x1="229.8" y1="273.0" x2="229.8" y2="303.0" stroke="#000" stroke-width="1.7" stroke-dasharray="3.5 2.2" stroke-linecap="butt"/>
<line x1="334.2" y1="270.5" x2="333.6" y2="285.5" stroke="#000" stroke-width="1.7" stroke-dasharray="3.5 2.2" stroke-linecap="butt"/>
<line x1="370.8" y1="272.6" x2="375.4" y2="317.3" stroke="#000" stroke-width="1.7" stroke-dasharray="3.5 2.2" stroke-linecap="butt"/>
<line x1="268.4" y1="129.2" x2="268.4" y2="140.1" stroke="#000" stroke-width="1.6" stroke-linecap="butt"/>
<polygon points="265.30,139.60 271.50,139.60 268.40,145.60" fill="#000"/>
<text x="265.0" y="121.0" font-size="14.5" font-weight="bold" fill="#000">H</text>
<text x="275.34" y="116.7" font-size="10" font-weight="bold" fill="#000">1</text>
<line x1="380.5" y1="43.6" x2="380.5" y2="149.5" stroke="#000" stroke-width="1.6" stroke-linecap="butt"/>
<polygon points="377.40,149.00 383.60,149.00 380.50,155.00" fill="#000"/>
<line x1="384.6" y1="55.0" x2="384.6" y2="154.1" stroke="#000" stroke-width="1.6" stroke-linecap="butt"/>
<polygon points="381.50,153.60 387.70,153.60 384.60,159.60" fill="#000"/>
<line x1="392.8" y1="79.0" x2="392.8" y2="158.1" stroke="#000" stroke-width="1.6" stroke-linecap="butt"/>
<polygon points="389.70,157.60 395.90,157.60 392.80,163.60" fill="#000"/>
<line x1="401.8" y1="93.8" x2="401.8" y2="159.3" stroke="#000" stroke-width="1.6" stroke-linecap="butt"/>
<polygon points="398.70,158.80 404.90,158.80 401.80,164.80" fill="#000"/>
<line x1="422.6" y1="110.5" x2="422.6" y2="158.3" stroke="#000" stroke-width="1.6" stroke-linecap="butt"/>
<polygon points="419.50,157.80 425.70,157.80 422.60,163.80" fill="#000"/>
<text x="366.0" y="41.2" font-size="14.5" font-weight="bold" fill="#000">H</text>
<text x="376.34" y="36.9" font-size="10" font-weight="bold" fill="#000">2,4,6'</text>
<text x="383.0" y="53.2" font-size="14.5" font-weight="bold" fill="#000">H</text>
<text x="393.34" y="48.9" font-size="10" font-weight="bold" fill="#000">6,5</text>
<text x="387.8" y="70.7" font-size="14.5" font-weight="bold" fill="#000">H</text>
<text x="398.14" y="66.4" font-size="10" font-weight="bold" fill="#000">7'</text>
<text x="401.0" y="85.9" font-size="14.5" font-weight="bold" fill="#000">H</text>
<text x="411.34" y="81.6" font-size="10" font-weight="bold" fill="#000">3</text>
<text x="417.0" y="104.4" font-size="14.5" font-weight="bold" fill="#000">H</text>
<text x="427.34" y="100.1" font-size="10" font-weight="bold" fill="#000">7</text>
<polyline points="31.70,373.30 31.70,379.00" fill="none" stroke="#000" stroke-width="1.6" stroke-linejoin="miter"/>
<polygon points="28.60,373.80 34.80,373.80 31.70,367.80" fill="#000"/>
<polyline points="113.40,368.90 113.40,372.40 94.50,372.40 94.50,380.80" fill="none" stroke="#000" stroke-width="1.6" stroke-linejoin="miter"/>
<polygon points="110.30,369.40 116.50,369.40 113.40,363.40" fill="#000"/>
<polyline points="122.80,366.50 122.80,375.70" fill="none" stroke="#000" stroke-width="1.6" stroke-linejoin="miter"/>
<polygon points="119.70,367.00 125.90,367.00 122.80,361.00" fill="#000"/>
<polyline points="143.70,368.80 143.70,375.70" fill="none" stroke="#000" stroke-width="1.6" stroke-linejoin="miter"/>
<polygon points="140.60,369.30 146.80,369.30 143.70,363.30" fill="#000"/>
<polyline points="157.60,366.50 157.60,375.70 173.30,375.70 173.30,379.70" fill="none" stroke="#000" stroke-width="1.6" stroke-linejoin="miter"/>
<polygon points="154.50,367.00 160.70,367.00 157.60,361.00" fill="#000"/>
<polyline points="174.00,361.10 174.00,367.70 192.00,367.70 192.00,375.70" fill="none" stroke="#000" stroke-width="1.6" stroke-linejoin="miter"/>
<polygon points="170.90,361.60 177.10,361.60 174.00,355.60" fill="#000"/>
<polyline points="231.20,373.90 231.20,376.70" fill="none" stroke="#000" stroke-width="1.6" stroke-linejoin="miter"/>
<polygon points="228.10,374.40 234.30,374.40 231.20,368.40" fill="#000"/>
<polyline points="336.00,367.10 336.00,379.30" fill="none" stroke="#000" stroke-width="1.6" stroke-linejoin="miter"/>
<polygon points="332.90,367.60 339.10,367.60 336.00,361.60" fill="#000"/>
<polyline points="380.20,367.10 380.20,379.30" fill="none" stroke="#000" stroke-width="1.6" stroke-linejoin="miter"/>
<polygon points="377.10,367.60 383.30,367.60 380.20,361.60" fill="#000"/>
<text x="24.8" y="393.2" font-size="14" font-weight="bold" fill="#000">H</text>
<text x="34.81" y="388.72" font-size="9.5" font-weight="bold" fill="#000">f</text>
<text x="86.7" y="393.2" font-size="14" font-weight="bold" fill="#000">H</text>
<text x="96.71" y="388.72" font-size="9.5" font-weight="bold" fill="#000">k</text>
<text x="111.3" y="393.2" font-size="14" font-weight="bold" fill="#000">H</text>
<text x="121.31" y="388.72" font-size="9.5" font-weight="bold" fill="#000">i</text>
<text x="134.0" y="393.2" font-size="14" font-weight="bold" fill="#000">H</text>
<text x="144.01" y="388.72" font-size="9.5" font-weight="bold" fill="#000">a,b</text>
<text x="161.6" y="393.2" font-size="14" font-weight="bold" fill="#000">H</text>
<text x="171.61" y="388.72" font-size="9.5" font-weight="bold" fill="#000">h</text>
<text x="185.7" y="393.2" font-size="14" font-weight="bold" fill="#000">H</text>
<text x="195.71" y="388.72" font-size="9.5" font-weight="bold" fill="#000">j</text>
<text x="222.7" y="393.2" font-size="14" font-weight="bold" fill="#000">H</text>
<text x="232.71" y="388.72" font-size="9.5" font-weight="bold" fill="#000">g</text>
<text x="323.4" y="393.2" font-size="14" font-weight="bold" fill="#000">H</text>
<text x="333.41" y="388.72" font-size="9.5" font-weight="bold" fill="#000">c</text>
<text x="374.9" y="393.2" font-size="14" font-weight="bold" fill="#000">H</text>
<text x="384.91" y="388.72" font-size="9.5" font-weight="bold" fill="#000">e</text>
<line x1="0" y1="400.2" x2="458" y2="400.2" stroke="#000" stroke-width="1.6" stroke-linecap="butt"/>
<line x1="8.5" y1="400.2" x2="8.5" y2="403.8" stroke="#000" stroke-width="1.3" stroke-linecap="butt"/>
<line x1="19.58" y1="400.2" x2="19.58" y2="403.8" stroke="#000" stroke-width="1.3" stroke-linecap="butt"/>
<line x1="30.66" y1="400.2" x2="30.66" y2="403.8" stroke="#000" stroke-width="1.3" stroke-linecap="butt"/>
<line x1="41.74" y1="400.2" x2="41.74" y2="403.8" stroke="#000" stroke-width="1.3" stroke-linecap="butt"/>
<line x1="52.82" y1="400.2" x2="52.82" y2="403.8" stroke="#000" stroke-width="1.3" stroke-linecap="butt"/>
<line x1="63.9" y1="400.2" x2="63.9" y2="403.8" stroke="#000" stroke-width="1.3" stroke-linecap="butt"/>
<line x1="74.98" y1="400.2" x2="74.98" y2="403.8" stroke="#000" stroke-width="1.3" stroke-linecap="butt"/>
<line x1="87.0" y1="400.2" x2="87.0" y2="403.8" stroke="#000" stroke-width="1.3" stroke-linecap="butt"/>
<line x1="98.07" y1="400.2" x2="98.07" y2="403.8" stroke="#000" stroke-width="1.3" stroke-linecap="butt"/>
<line x1="109.14" y1="400.2" x2="109.14" y2="403.8" stroke="#000" stroke-width="1.3" stroke-linecap="butt"/>
<line x1="120.21" y1="400.2" x2="120.21" y2="403.8" stroke="#000" stroke-width="1.3" stroke-linecap="butt"/>
<line x1="131.28" y1="400.2" x2="131.28" y2="403.8" stroke="#000" stroke-width="1.3" stroke-linecap="butt"/>
<line x1="142.35" y1="400.2" x2="142.35" y2="403.8" stroke="#000" stroke-width="1.3" stroke-linecap="butt"/>
<line x1="153.42" y1="400.2" x2="153.42" y2="403.8" stroke="#000" stroke-width="1.3" stroke-linecap="butt"/>
<line x1="164.49" y1="400.2" x2="164.49" y2="403.8" stroke="#000" stroke-width="1.3" stroke-linecap="butt"/>
<line x1="175.56" y1="400.2" x2="175.56" y2="403.8" stroke="#000" stroke-width="1.3" stroke-linecap="butt"/>
<line x1="186.63" y1="400.2" x2="186.63" y2="403.8" stroke="#000" stroke-width="1.3" stroke-linecap="butt"/>
<line x1="197.7" y1="400.2" x2="197.7" y2="403.8" stroke="#000" stroke-width="1.3" stroke-linecap="butt"/>
<line x1="208.77" y1="400.2" x2="208.77" y2="403.8" stroke="#000" stroke-width="1.3" stroke-linecap="butt"/>
<line x1="219.84" y1="400.2" x2="219.84" y2="403.8" stroke="#000" stroke-width="1.3" stroke-linecap="butt"/>
<line x1="230.91" y1="400.2" x2="230.91" y2="403.8" stroke="#000" stroke-width="1.3" stroke-linecap="butt"/>
<line x1="241.98" y1="400.2" x2="241.98" y2="403.8" stroke="#000" stroke-width="1.3" stroke-linecap="butt"/>
<line x1="259.3" y1="400.2" x2="259.3" y2="403.8" stroke="#000" stroke-width="1.3" stroke-linecap="butt"/>
<line x1="270.31" y1="400.2" x2="270.31" y2="403.8" stroke="#000" stroke-width="1.3" stroke-linecap="butt"/>
<line x1="281.31" y1="400.2" x2="281.31" y2="403.8" stroke="#000" stroke-width="1.3" stroke-linecap="butt"/>
<line x1="292.31" y1="400.2" x2="292.31" y2="403.8" stroke="#000" stroke-width="1.3" stroke-linecap="butt"/>
<line x1="303.32" y1="400.2" x2="303.32" y2="403.8" stroke="#000" stroke-width="1.3" stroke-linecap="butt"/>
<line x1="314.33" y1="400.2" x2="314.33" y2="403.8" stroke="#000" stroke-width="1.3" stroke-linecap="butt"/>
<line x1="325.33" y1="400.2" x2="325.33" y2="403.8" stroke="#000" stroke-width="1.3" stroke-linecap="butt"/>
<line x1="336.34" y1="400.2" x2="336.34" y2="403.8" stroke="#000" stroke-width="1.3" stroke-linecap="butt"/>
<line x1="347.34" y1="400.2" x2="347.34" y2="403.8" stroke="#000" stroke-width="1.3" stroke-linecap="butt"/>
<line x1="358.35" y1="400.2" x2="358.35" y2="403.8" stroke="#000" stroke-width="1.3" stroke-linecap="butt"/>
<line x1="369.35" y1="400.2" x2="369.35" y2="403.8" stroke="#000" stroke-width="1.3" stroke-linecap="butt"/>
<line x1="380.36" y1="400.2" x2="380.36" y2="403.8" stroke="#000" stroke-width="1.3" stroke-linecap="butt"/>
<line x1="391.36" y1="400.2" x2="391.36" y2="403.8" stroke="#000" stroke-width="1.3" stroke-linecap="butt"/>
<line x1="402.37" y1="400.2" x2="402.37" y2="403.8" stroke="#000" stroke-width="1.3" stroke-linecap="butt"/>
<line x1="413.37" y1="400.2" x2="413.37" y2="403.8" stroke="#000" stroke-width="1.3" stroke-linecap="butt"/>
<line x1="424.38" y1="400.2" x2="424.38" y2="403.8" stroke="#000" stroke-width="1.3" stroke-linecap="butt"/>
<line x1="435.38" y1="400.2" x2="435.38" y2="403.8" stroke="#000" stroke-width="1.3" stroke-linecap="butt"/>
<line x1="446.38" y1="400.2" x2="446.38" y2="403.8" stroke="#000" stroke-width="1.3" stroke-linecap="butt"/>
<line x1="457.39" y1="400.2" x2="457.39" y2="403.8" stroke="#000" stroke-width="1.3" stroke-linecap="butt"/>
<line x1="76.5" y1="406.5" x2="86.0" y2="397.0" stroke="#000" stroke-width="1.2" stroke-linecap="butt"/>
<line x1="79.5" y1="406.5" x2="89.0" y2="397.0" stroke="#000" stroke-width="1.2" stroke-linecap="butt"/>
<line x1="249.8" y1="405.5" x2="259.3" y2="396.0" stroke="#000" stroke-width="1.2" stroke-linecap="butt"/>
<line x1="252.8" y1="405.5" x2="262.3" y2="396.0" stroke="#000" stroke-width="1.2" stroke-linecap="butt"/>
<text x="27.2" y="417.6" font-size="12.4" font-weight="bold" text-anchor="middle" fill="#000">9.9</text>
<text x="84.3" y="417.6" font-size="12.4" font-weight="bold" text-anchor="middle" fill="#000">7.8</text>
<text x="140.2" y="417.6" font-size="12.4" font-weight="bold" text-anchor="middle" fill="#000">7.3</text>
<text x="194.8" y="417.6" font-size="12.4" font-weight="bold" text-anchor="middle" fill="#000">6.8</text>
<text x="249.8" y="417.6" font-size="12.4" font-weight="bold" text-anchor="middle" fill="#000">6.3</text>
<text x="300.3" y="417.6" font-size="12.4" font-weight="bold" text-anchor="middle" fill="#000">4.5</text>
<text x="355.6" y="417.6" font-size="12.4" font-weight="bold" text-anchor="middle" fill="#000">4.0</text>
<text x="411.0" y="417.6" font-size="12.4" font-weight="bold" text-anchor="middle" fill="#000">3.5</text>
<line x1="372" y1="426.7" x2="402" y2="426.7" stroke="#000" stroke-width="2.2" stroke-linecap="butt"/>
<polygon points="367.00,426.70 373.50,423.40 373.50,430.00" fill="#000"/>
<text x="410.4" y="430.9" font-size="12.5" font-weight="bold" font-style="italic" fill="#000">&#948;</text>
<text x="421.0" y="431.0" font-size="12.2" font-weight="bold" textLength="32.4" lengthAdjust="spacingAndGlyphs" fill="#000">(ppm)</text>
<text x="21.7" y="9.2" font-size="10.5" font-weight="bold" fill="#000">A</text>
<text x="47.6" y="81.5" font-size="12" font-weight="bold" fill="#000">OH</text>
<text x="34.2" y="91.8" font-size="12" font-weight="bold" fill="#000">H</text>
<text x="42.86" y="88.4" font-size="8.5" fill="#000" stroke="#000" stroke-width="0.45">4</text>
<text x="58.4" y="92.9" font-size="12" font-weight="bold" fill="#000">H</text>
<text x="67.06" y="88.3" font-size="8.5" fill="#000" stroke="#000" stroke-width="0.45">6,6'</text>
<polyline points="52.60,83.50 50.60,94.20 56.80,91.20" fill="none" stroke="#000" stroke-width="1.5" stroke-linejoin="miter"/>
<line x1="50.6" y1="94.2" x2="63.2" y2="112.6" stroke="#000" stroke-width="1.5" stroke-linecap="butt"/>
<line x1="38.4" y1="93.4" x2="38.4" y2="105.8" stroke="#000" stroke-width="1.5" stroke-linecap="butt"/>
<text x="8.9" y="118.4" font-size="12" font-weight="bold" fill="#000">HO</text>
<line x1="27.4" y1="111.8" x2="38.4" y2="105.8" stroke="#000" stroke-width="1.5" stroke-linecap="butt"/>
<line x1="38.4" y1="105.8" x2="63.0" y2="112.6" stroke="#000" stroke-width="1.5" stroke-linecap="butt"/>
<polygon points="38.40,105.80 49.00,128.50 52.60,127.40" fill="#000"/>
<text x="20.2" y="130.2" font-size="12" font-weight="bold" fill="#000">HO</text>
<line x1="38.5" y1="126.4" x2="51.0" y2="128.5" stroke="#000" stroke-width="1.5" stroke-linecap="butt"/>
<line x1="51.0" y1="128.5" x2="51.0" y2="146.5" stroke="#000" stroke-width="1.5" stroke-linecap="butt"/>
<text x="47.2" y="159.7" font-size="12" font-weight="bold" fill="#000">H</text>
<text x="55.86" y="155.1" font-size="8.5" fill="#000" stroke="#000" stroke-width="0.45">3</text>
<line x1="64.2" y1="112.6" x2="64.2" y2="121.5" stroke="#000" stroke-width="1.5" stroke-linecap="butt"/>
<line x1="64.2" y1="126.5" x2="64.2" y2="133.0" stroke="#000" stroke-width="1.5" stroke-linecap="butt"/>
<text x="60.0" y="145.0" font-size="12" font-weight="bold" fill="#000">H</text>
<text x="68.66" y="140.4" font-size="8.5" fill="#000" stroke="#000" stroke-width="0.45">5</text>
<line x1="63.0" y1="112.6" x2="74.6" y2="109.2" stroke="#000" stroke-width="1.5" stroke-linecap="butt"/>
<line x1="79.6" y1="108.2" x2="84.4" y2="107.4" stroke="#000" stroke-width="1.5" stroke-linecap="butt"/>
<text x="72.6" y="99.0" font-size="12" font-weight="bold" fill="#000">OH</text>
<line x1="77.4" y1="101.5" x2="77.4" y2="121.0" stroke="#000" stroke-width="1.5" stroke-linecap="butt"/>
<text x="84.9" y="109.6" font-size="12" font-weight="bold" fill="#000">O</text>
<line x1="93.2" y1="111.3" x2="103.2" y2="128.0" stroke="#000" stroke-width="1.5" stroke-linecap="butt"/>
<polyline points="51.00,128.50 77.40,121.00" fill="none" stroke="#000" stroke-width="3.0" stroke-linejoin="miter"/>
<polygon points="77.60,118.90 77.00,122.90 103.30,129.00 103.50,127.40" fill="#000"/>
<line x1="77.4" y1="121.0" x2="83.2" y2="129.8" stroke="#000" stroke-width="1.5" stroke-linecap="butt"/>
<text x="82.4" y="141.2" font-size="12" font-weight="bold" fill="#000">H</text>
<text x="91.06" y="136.6" font-size="8.5" fill="#000" stroke="#000" stroke-width="0.45">2</text>
<line x1="103.3" y1="128.2" x2="115.2" y2="125.3" stroke="#000" stroke-width="1.5" stroke-linecap="butt"/>
<text x="116.8" y="128.5" font-size="12" font-weight="bold" fill="#000">H</text>
<text x="125.46" y="123.9" font-size="8.5" fill="#000" stroke="#000" stroke-width="0.45">1</text>
<line x1="102.8" y1="128.2" x2="102.8" y2="140.0" stroke="#000" stroke-width="1.5" stroke-linecap="butt"/>
<text x="98.3" y="151.4" font-size="12" font-weight="bold" fill="#000">O</text>
<line x1="108.7" y1="149.5" x2="118.4" y2="156.0" stroke="#000" stroke-width="1.5" stroke-linecap="butt"/>
<line x1="118.4" y1="156.0" x2="129.7" y2="148.7" stroke="#000" stroke-width="1.5" stroke-linecap="butt"/>
<line x1="118.4" y1="156.0" x2="115.8" y2="163.2" stroke="#000" stroke-width="1.5" stroke-linecap="butt"/>
<line x1="118.4" y1="156.0" x2="126.6" y2="163.0" stroke="#000" stroke-width="1.5" stroke-linecap="butt"/>
<text x="130.5" y="151.6" font-size="12" font-weight="bold" fill="#000">C</text>
<text x="139.2" y="154.0" font-size="9.5" fill="#000" stroke="#000" stroke-width="0.45">7</text>
<text x="145.3" y="151.6" font-size="12" font-weight="bold" fill="#000">H</text>
<text x="154.6" y="154.0" font-size="9.5" fill="#000" stroke="#000" stroke-width="0.45">15</text>
<text x="106.3" y="176.1" font-size="12" font-weight="bold" fill="#000">H</text>
<text x="114.96" y="170.6" font-size="8.5" fill="#000" stroke="#000" stroke-width="0.45">7</text>
<text x="128.0" y="173.6" font-size="12" font-weight="bold" fill="#000">H</text>
<text x="136.66" y="168.1" font-size="8.5" fill="#000" stroke="#000" stroke-width="0.45">7'</text>
<text x="13.6" y="171.2" font-size="10.8" font-weight="bold" textLength="62.4" lengthAdjust="spacingAndGlyphs" fill="#000">Oct-&#945;-Man</text>
<text x="128.8" y="24.9" font-size="12" font-weight="bold" fill="#000">H</text>
<text x="137.46" y="18.7" font-size="8.5" fill="#000" stroke="#000" stroke-width="0.45">g</text>
<line x1="142.6" y1="24.0" x2="146.0" y2="33.8" stroke="#000" stroke-width="1.5" stroke-linecap="butt"/>
<line x1="146.0" y1="33.8" x2="155.0" y2="35.6" stroke="#000" stroke-width="1.5" stroke-linecap="butt"/>
<text x="156.5" y="41.5" font-size="12" font-weight="bold" fill="#000">NH</text>
<text x="174.0" y="36.0" font-size="8.5" fill="#000" stroke="#000" stroke-width="0.45">f</text>
<line x1="146.0" y1="33.8" x2="139.0" y2="46.8" stroke="#000" stroke-width="1.5" stroke-linecap="butt"/>
<line x1="147.98" y1="36.88" x2="142.66" y2="46.76" stroke="#000" stroke-width="1.5" stroke-linecap="butt"/>
<line x1="139.0" y1="46.8" x2="135.6" y2="46.8" stroke="#000" stroke-width="1.5" stroke-linecap="butt"/>
<text x="120.5" y="52.5" font-size="12" font-weight="bold" fill="#000">H</text>
<text x="129.16" y="47.9" font-size="8.5" fill="#000" stroke="#000" stroke-width="0.45">h</text>
<line x1="139.0" y1="46.8" x2="148.3" y2="56.9" stroke="#000" stroke-width="1.5" stroke-linecap="butt"/>
<line x1="161.4" y1="42.8" x2="161.5" y2="51.7" stroke="#000" stroke-width="1.5" stroke-linecap="butt"/>
<polyline points="148.30,56.90 161.50,51.70 174.00,60.40 172.70,75.10 159.20,80.80 146.70,72.50 148.30,56.90" fill="none" stroke="#000" stroke-width="1.5" stroke-linejoin="miter"/>
<line x1="151.62" y1="59.14" x2="160.6" y2="55.6" stroke="#000" stroke-width="1.5" stroke-linecap="butt"/>
<line x1="170.5" y1="62.46" x2="169.62" y2="72.46" stroke="#000" stroke-width="1.5" stroke-linecap="butt"/>
<line x1="150.53" y1="71.08" x2="159.03" y2="76.72" stroke="#000" stroke-width="1.5" stroke-linecap="butt"/>
<line x1="146.7" y1="72.5" x2="142.6" y2="73.3" stroke="#000" stroke-width="1.5" stroke-linecap="butt"/>
<text x="130.2" y="82.2" font-size="12" font-weight="bold" fill="#000">H</text>
<text x="138.86" y="77.6" font-size="8.5" fill="#000" stroke="#000" stroke-width="0.45">i</text>
<line x1="159.2" y1="80.8" x2="157.9" y2="87.7" stroke="#000" stroke-width="1.5" stroke-linecap="butt"/>
<text x="147.5" y="99.4" font-size="12" font-weight="bold" fill="#000">H</text>
<text x="156.16" y="94.8" font-size="8.5" fill="#000" stroke="#000" stroke-width="0.45">j</text>
<line x1="172.7" y1="75.1" x2="178.4" y2="79.4" stroke="#000" stroke-width="1.5" stroke-linecap="butt"/>
<text x="180.0" y="87.7" font-size="12" font-weight="bold" fill="#000">H</text>
<text x="188.66" y="83.1" font-size="8.5" fill="#000" stroke="#000" stroke-width="0.45">k</text>
<line x1="174.0" y1="60.4" x2="188.1" y2="54.4" stroke="#000" stroke-width="1.5" stroke-linecap="butt"/>
<line x1="188.1" y1="54.4" x2="188.1" y2="46.3" stroke="#000" stroke-width="1.5" stroke-linecap="butt"/>
<text x="185.4" y="44.0" font-size="12" font-weight="bold" fill="#000">H</text>
<text x="194.06" y="39.4" font-size="8.5" fill="#000" stroke="#000" stroke-width="0.45">e</text>
<line x1="188.1" y1="54.4" x2="194.6" y2="58.6" stroke="#000" stroke-width="1.5" stroke-linecap="butt"/>
<text x="195.0" y="66.8" font-size="12" font-weight="bold" fill="#000">N</text>
<text x="195.0" y="77.0" font-size="12" font-weight="bold" fill="#000">H</text>
<line x1="204.6" y1="60.6" x2="213.0" y2="57.2" stroke="#000" stroke-width="1.5" stroke-linecap="butt"/>
<line x1="213.0" y1="57.2" x2="213.0" y2="48.9" stroke="#000" stroke-width="1.5" stroke-linecap="butt"/>
<text x="210.7" y="46.8" font-size="12" font-weight="bold" fill="#000">H</text>
<text x="219.36" y="42.2" font-size="8.5" fill="#000" stroke="#000" stroke-width="0.45">c</text>
<line x1="213.0" y1="57.2" x2="224.3" y2="64.8" stroke="#000" stroke-width="1.5" stroke-linecap="butt"/>
<polyline points="224.30,64.80 238.00,59.70 249.50,68.00 248.80,83.10 235.20,88.70 222.80,79.90 224.30,64.80" fill="none" stroke="#000" stroke-width="1.5" stroke-linejoin="miter"/>
<line x1="227.34" y1="67.54" x2="226.32" y2="77.81" stroke="#000" stroke-width="1.5" stroke-linecap="butt"/>
<line x1="237.91" y1="63.7" x2="245.73" y2="69.35" stroke="#000" stroke-width="1.5" stroke-linecap="butt"/>
<line x1="245.37" y1="80.94" x2="236.12" y2="84.75" stroke="#000" stroke-width="1.5" stroke-linecap="butt"/>
<line x1="238.0" y1="59.7" x2="239.2" y2="52.0" stroke="#000" stroke-width="1.5" stroke-linecap="butt"/>
<text x="236.5" y="49.6" font-size="12" font-weight="bold" fill="#000">H</text>
<text x="245.16" y="45.0" font-size="8.5" fill="#000" stroke="#000" stroke-width="0.45">a</text>
<line x1="222.8" y1="79.9" x2="220.4" y2="81.4" stroke="#000" stroke-width="1.5" stroke-linecap="butt"/>
<text x="206.2" y="90.1" font-size="12" font-weight="bold" fill="#000">H</text>
<text x="214.86" y="85.5" font-size="8.5" fill="#000" stroke="#000" stroke-width="0.45">b</text>
<line x1="249.5" y1="68.0" x2="262.9" y2="62.6" stroke="#000" stroke-width="1.5" stroke-linecap="butt"/>
<line x1="235.2" y1="88.7" x2="234.0" y2="103.9" stroke="#000" stroke-width="1.5" stroke-linecap="butt"/>
<path d="M260.00,54.60 L259.70,54.94 L259.43,55.27 L259.24,55.57 L259.14,55.83 L259.16,56.06 L259.29,56.23 L259.54,56.37 L259.88,56.47 L260.30,56.54 L260.75,56.60 L261.20,56.66 L261.62,56.73 L261.96,56.83 L262.21,56.97 L262.34,57.14 L262.36,57.37 L262.26,57.63 L262.07,57.93 L261.80,58.26 L261.50,58.60 L261.20,58.94 L260.93,59.27 L260.74,59.57 L260.64,59.83 L260.66,60.06 L260.79,60.23 L261.04,60.37 L261.38,60.47 L261.80,60.54 L262.25,60.60 L262.70,60.66 L263.12,60.73 L263.46,60.83 L263.71,60.97 L263.84,61.14 L263.86,61.37 L263.76,61.63 L263.57,61.93 L263.30,62.26 L263.00,62.60 L262.70,62.94 L262.43,63.27 L262.24,63.57 L262.14,63.83 L262.16,64.06 L262.29,64.23 L262.54,64.37 L262.88,64.47 L263.30,64.54 L263.75,64.60 L264.20,64.66 L264.62,64.73 L264.96,64.83 L265.21,64.97 L265.34,65.14 L265.36,65.37 L265.26,65.63 L265.07,65.93 L264.80,66.26 L264.50,66.60 L264.20,66.94 L263.93,67.27 L263.74,67.57 L263.64,67.83 L263.66,68.06 L263.79,68.23 L264.04,68.37 L264.38,68.47 L264.80,68.54 L265.25,68.60 L265.70,68.66 L266.12,68.73 L266.46,68.83 L266.71,68.97 L266.84,69.14 L266.86,69.37 L266.76,69.63 L266.57,69.93 L266.30,70.26 L266.00,70.60" fill="none" stroke="#000" stroke-width="1.3"/>
<path d="M224.30,103.40 L224.50,103.82 L224.70,104.19 L224.91,104.49 L225.12,104.69 L225.34,104.77 L225.57,104.72 L225.81,104.55 L226.05,104.28 L226.30,103.94 L226.55,103.55 L226.80,103.16 L227.05,102.82 L227.29,102.55 L227.53,102.38 L227.76,102.33 L227.98,102.41 L228.19,102.61 L228.40,102.91 L228.60,103.28 L228.80,103.70 L229.00,104.12 L229.20,104.49 L229.41,104.79 L229.62,104.99 L229.84,105.07 L230.07,105.02 L230.31,104.85 L230.55,104.58 L230.80,104.24 L231.05,103.85 L231.30,103.46 L231.55,103.12 L231.79,102.85 L232.03,102.68 L232.26,102.63 L232.48,102.71 L232.69,102.91 L232.90,103.21 L233.10,103.58 L233.30,104.00 L233.50,104.42 L233.70,104.79 L233.91,105.09 L234.12,105.29 L234.34,105.37 L234.57,105.32 L234.81,105.15 L235.05,104.88 L235.30,104.54 L235.55,104.15 L235.80,103.76 L236.05,103.42 L236.29,103.15 L236.53,102.98 L236.76,102.93 L236.98,103.01 L237.19,103.21 L237.40,103.51 L237.60,103.88 L237.80,104.30 L238.00,104.72 L238.20,105.09 L238.41,105.39 L238.62,105.59 L238.84,105.67 L239.07,105.62 L239.31,105.45 L239.55,105.18 L239.80,104.84 L240.05,104.45 L240.30,104.06 L240.55,103.72 L240.79,103.45 L241.03,103.28 L241.26,103.23 L241.48,103.31 L241.69,103.51 L241.90,103.81 L242.10,104.18 L242.30,104.60" fill="none" stroke="#000" stroke-width="1.3"/>
<text x="168.7" y="113.7" font-size="11" font-weight="bold" textLength="45.2" lengthAdjust="spacingAndGlyphs" fill="#000">SCR032</text>
<text x="465.0" y="9.3" font-size="10.5" font-weight="bold" fill="#000">B</text>
<line x1="507.0" y1="5.7" x2="748.9" y2="5.7" stroke="#000" stroke-width="1.8" stroke-linecap="butt"/>
<line x1="748.0" y1="5.7" x2="748.0" y2="166.8" stroke="#000" stroke-width="1.8" stroke-linecap="butt"/>
<line x1="510.8" y1="4.8" x2="510.8" y2="170.4" stroke="#000" stroke-width="1.8" stroke-linecap="butt"/>
<line x1="509.90000000000003" y1="166.8" x2="748.9" y2="166.8" stroke="#000" stroke-width="1.8" stroke-linecap="butt"/>
<line x1="507.0" y1="5.7" x2="510.8" y2="5.7" stroke="#000" stroke-width="1.4" stroke-linecap="butt"/>
<text x="500.8" y="9.9" font-size="11.8" font-weight="bold" text-anchor="end" fill="#000">7.6</text>
<line x1="507.0" y1="32.5" x2="510.8" y2="32.5" stroke="#000" stroke-width="1.4" stroke-linecap="butt"/>
<text x="500.8" y="36.7" font-size="11.8" font-weight="bold" text-anchor="end" fill="#000">7.5</text>
<line x1="507.0" y1="59.3" x2="510.8" y2="59.3" stroke="#000" stroke-width="1.4" stroke-linecap="butt"/>
<text x="500.8" y="63.5" font-size="11.8" font-weight="bold" text-anchor="end" fill="#000">7.4</text>
<line x1="507.0" y1="86.1" x2="510.8" y2="86.1" stroke="#000" stroke-width="1.4" stroke-linecap="butt"/>
<text x="500.8" y="90.3" font-size="11.8" font-weight="bold" text-anchor="end" fill="#000">7.3</text>
<line x1="507.0" y1="112.9" x2="510.8" y2="112.9" stroke="#000" stroke-width="1.4" stroke-linecap="butt"/>
<text x="500.8" y="117.1" font-size="11.8" font-weight="bold" text-anchor="end" fill="#000">7.2</text>
<line x1="507.0" y1="139.9" x2="510.8" y2="139.9" stroke="#000" stroke-width="1.4" stroke-linecap="butt"/>
<text x="500.8" y="144.1" font-size="11.8" font-weight="bold" text-anchor="end" fill="#000">7.1</text>
<line x1="507.0" y1="166.8" x2="510.8" y2="166.8" stroke="#000" stroke-width="1.4" stroke-linecap="butt"/>
<text x="500.8" y="171.0" font-size="11.8" font-weight="bold" text-anchor="end" fill="#000">7</text>
<line x1="510.8" y1="166.8" x2="510.8" y2="170.4" stroke="#000" stroke-width="1.4" stroke-linecap="butt"/>
<text x="510.8" y="185.8" font-size="11.8" font-weight="bold" text-anchor="middle" fill="#000">0</text>
<line x1="562.0" y1="166.8" x2="562.0" y2="170.4" stroke="#000" stroke-width="1.4" stroke-linecap="butt"/>
<text x="562.0" y="185.8" font-size="11.8" font-weight="bold" text-anchor="middle" fill="#000">5</text>
<line x1="613.5" y1="166.8" x2="613.5" y2="170.4" stroke="#000" stroke-width="1.4" stroke-linecap="butt"/>
<text x="613.5" y="185.8" font-size="11.8" font-weight="bold" text-anchor="middle" fill="#000">10</text>
<line x1="665.2" y1="166.8" x2="665.2" y2="170.4" stroke="#000" stroke-width="1.4" stroke-linecap="butt"/>
<text x="665.2" y="185.8" font-size="11.8" font-weight="bold" text-anchor="middle" fill="#000">15</text>
<line x1="717.0" y1="166.8" x2="717.0" y2="170.4" stroke="#000" stroke-width="1.4" stroke-linecap="butt"/>
<text x="717.0" y="185.8" font-size="11.8" font-weight="bold" text-anchor="middle" fill="#000">20</text>
<text x="543.2" y="202.8" font-size="12.5" font-weight="bold" textLength="172.8" lengthAdjust="spacingAndGlyphs" fill="#000">Molar Equivalents of SCR032</text>
<text transform="translate(477.3,87.7) rotate(-90)" text-anchor="middle" font-size="12" font-weight="bold" textLength="100" lengthAdjust="spacingAndGlyphs">Chemical shift (<tspan font-style="italic">&#948;</tspan>)</text>
<path d="M510.80,21.30 L512.09,20.43 L513.38,19.68 L514.67,19.05 L515.96,18.53 L517.24,18.12 L518.53,17.83 L519.82,17.66 L521.11,17.60 L531.42,16.90 L562.35,17.30 L613.90,17.30 L717.00,17.30" fill="none" stroke="#000" stroke-width="1.6" stroke-dasharray="5 3.6"/>
<circle cx="510.80" cy="21.30" r="2.7" fill="#000"/>
<circle cx="512.09" cy="20.43" r="2.7" fill="#000"/>
<circle cx="513.38" cy="19.68" r="2.7" fill="#000"/>
<circle cx="514.67" cy="19.05" r="2.7" fill="#000"/>
<circle cx="515.96" cy="18.53" r="2.7" fill="#000"/>
<circle cx="517.24" cy="18.12" r="2.7" fill="#000"/>
<circle cx="518.53" cy="17.83" r="2.7" fill="#000"/>
<circle cx="519.82" cy="17.66" r="2.7" fill="#000"/>
<circle cx="521.11" cy="17.60" r="2.7" fill="#000"/>
<circle cx="531.42" cy="16.90" r="2.7" fill="#000"/>
<circle cx="562.35" cy="17.30" r="2.7" fill="#000"/>
<circle cx="613.90" cy="17.30" r="2.7" fill="#000"/>
<circle cx="717.00" cy="17.30" r="2.7" fill="#000"/>
<path d="M510.80,122.00 L512.09,121.30 L513.38,120.69 L514.67,120.17 L515.96,119.75 L517.24,119.42 L518.53,119.19 L519.82,119.05 L521.11,119.00 L531.42,118.50 L562.35,119.50 L613.90,120.00 L717.00,120.80" fill="none" stroke="#000" stroke-width="1.6" stroke-dasharray="5 3.6"/>
<circle cx="510.80" cy="122.00" r="2.7" fill="#000"/>
<circle cx="512.09" cy="121.30" r="2.7" fill="#000"/>
<circle cx="513.38" cy="120.69" r="2.7" fill="#000"/>
<circle cx="514.67" cy="120.17" r="2.7" fill="#000"/>
<circle cx="515.96" cy="119.75" r="2.7" fill="#000"/>
<circle cx="517.24" cy="119.42" r="2.7" fill="#000"/>
<circle cx="518.53" cy="119.19" r="2.7" fill="#000"/>
<circle cx="519.82" cy="119.05" r="2.7" fill="#000"/>
<circle cx="521.11" cy="119.00" r="2.7" fill="#000"/>
<circle cx="531.42" cy="118.50" r="2.7" fill="#000"/>
<circle cx="562.35" cy="119.50" r="2.7" fill="#000"/>
<circle cx="613.90" cy="120.00" r="2.7" fill="#000"/>
<circle cx="717.00" cy="120.80" r="2.7" fill="#000"/>
<path d="M510.80,159.60 L512.09,159.06 L513.38,158.59 L514.67,158.20 L515.96,157.88 L517.24,157.62 L518.53,157.44 L519.82,157.34 L521.11,157.30 L531.42,157.30 L562.35,155.30 L613.90,155.00 L717.00,155.60" fill="none" stroke="#000" stroke-width="1.6" stroke-dasharray="5 3.6"/>
<circle cx="510.80" cy="159.60" r="2.7" fill="#000"/>
<circle cx="512.09" cy="159.06" r="2.7" fill="#000"/>
<circle cx="513.38" cy="158.59" r="2.7" fill="#000"/>
<circle cx="514.67" cy="158.20" r="2.7" fill="#000"/>
<circle cx="515.96" cy="157.88" r="2.7" fill="#000"/>
<circle cx="517.24" cy="157.62" r="2.7" fill="#000"/>
<circle cx="518.53" cy="157.44" r="2.7" fill="#000"/>
<circle cx="519.82" cy="157.34" r="2.7" fill="#000"/>
<circle cx="521.11" cy="157.30" r="2.7" fill="#000"/>
<circle cx="531.42" cy="157.30" r="2.7" fill="#000"/>
<circle cx="562.35" cy="155.30" r="2.7" fill="#000"/>
<circle cx="613.90" cy="155.00" r="2.7" fill="#000"/>
<circle cx="717.00" cy="155.60" r="2.7" fill="#000"/>
<text x="726.0" y="21.6" font-size="14.2" font-weight="bold" fill="#000">H</text>
<text x="736.14" y="17.06" font-size="10" font-weight="bold" fill="#000">k</text>
<text x="726.0" y="122.0" font-size="14.2" font-weight="bold" fill="#000">H</text>
<text x="736.14" y="117.46" font-size="10" font-weight="bold" fill="#000">h</text>
<text x="726.3" y="155.6" font-size="14.2" font-weight="bold" fill="#000">H</text>
<text x="736.44" y="151.06" font-size="10" font-weight="bold" fill="#000">j</text>
<text x="464.0" y="208.6" font-size="10.5" font-weight="bold" fill="#000">C</text>
<line x1="507.0" y1="218.0" x2="748.9" y2="218.0" stroke="#000" stroke-width="1.8" stroke-linecap="butt"/>
<line x1="748.0" y1="218.0" x2="748.0" y2="379.4" stroke="#000" stroke-width="1.8" stroke-linecap="butt"/>
<line x1="510.7" y1="217.1" x2="510.7" y2="383.0" stroke="#000" stroke-width="1.8" stroke-linecap="butt"/>
<line x1="509.8" y1="379.4" x2="748.9" y2="379.4" stroke="#000" stroke-width="1.8" stroke-linecap="butt"/>
<line x1="507.0" y1="218.0" x2="510.7" y2="218.0" stroke="#000" stroke-width="1.4" stroke-linecap="butt"/>
<text x="500.8" y="222.2" font-size="11.8" font-weight="bold" text-anchor="end" fill="#000">5.2</text>
<line x1="507.0" y1="250.3" x2="510.7" y2="250.3" stroke="#000" stroke-width="1.4" stroke-linecap="butt"/>
<text x="500.8" y="254.5" font-size="11.8" font-weight="bold" text-anchor="end" fill="#000">4.7</text>
<line x1="507.0" y1="282.6" x2="510.7" y2="282.6" stroke="#000" stroke-width="1.4" stroke-linecap="butt"/>
<text x="500.8" y="286.8" font-size="11.8" font-weight="bold" text-anchor="end" fill="#000">4.2</text>
<line x1="507.0" y1="314.9" x2="510.7" y2="314.9" stroke="#000" stroke-width="1.4" stroke-linecap="butt"/>
<text x="500.8" y="319.1" font-size="11.8" font-weight="bold" text-anchor="end" fill="#000">3.7</text>
<line x1="507.0" y1="347.2" x2="510.7" y2="347.2" stroke="#000" stroke-width="1.4" stroke-linecap="butt"/>
<text x="500.8" y="351.4" font-size="11.8" font-weight="bold" text-anchor="end" fill="#000">3.2</text>
<line x1="507.0" y1="379.4" x2="510.7" y2="379.4" stroke="#000" stroke-width="1.4" stroke-linecap="butt"/>
<text x="500.8" y="383.6" font-size="11.8" font-weight="bold" text-anchor="end" fill="#000">2.7</text>
<line x1="510.7" y1="379.4" x2="510.7" y2="383.0" stroke="#000" stroke-width="1.4" stroke-linecap="butt"/>
<text x="510.7" y="398.3" font-size="11.8" font-weight="bold" text-anchor="middle" fill="#000">0</text>
<line x1="560.0" y1="379.4" x2="560.0" y2="383.0" stroke="#000" stroke-width="1.4" stroke-linecap="butt"/>
<text x="560.0" y="398.3" font-size="11.8" font-weight="bold" text-anchor="middle" fill="#000">5</text>
<line x1="610.0" y1="379.4" x2="610.0" y2="383.0" stroke="#000" stroke-width="1.4" stroke-linecap="butt"/>
<text x="610.0" y="398.3" font-size="11.8" font-weight="bold" text-anchor="middle" fill="#000">10</text>
<line x1="660.0" y1="379.4" x2="660.0" y2="383.0" stroke="#000" stroke-width="1.4" stroke-linecap="butt"/>
<text x="660.0" y="398.3" font-size="11.8" font-weight="bold" text-anchor="middle" fill="#000">15</text>
<line x1="709.5" y1="379.4" x2="709.5" y2="383.0" stroke="#000" stroke-width="1.4" stroke-linecap="butt"/>
<text x="709.5" y="398.3" font-size="11.8" font-weight="bold" text-anchor="middle" fill="#000">20</text>
<text x="544.0" y="415.5" font-size="12.5" font-weight="bold" textLength="172.8" lengthAdjust="spacingAndGlyphs" fill="#000">Molar Equivalents of SCR032</text>
<text transform="translate(476.3,297.3) rotate(-90)" text-anchor="middle" font-size="12" font-weight="bold" textLength="102" lengthAdjust="spacingAndGlyphs">Chemical shift (<tspan font-style="italic">&#948;</tspan>)</text>
<path d="M510.70,242.60 L511.94,244.85 L513.18,247.10 L514.43,249.35 L515.67,251.60 L516.91,253.85 L518.15,256.10 L519.40,258.35 L520.64,260.60 L530.58,267.90 L560.40,273.90 L610.10,280.00 L709.50,281.00" fill="none" stroke="#000" stroke-width="1.6" stroke-dasharray="5 3.6"/>
<circle cx="510.70" cy="242.60" r="2.7" fill="#000"/>
<circle cx="511.94" cy="244.85" r="2.7" fill="#000"/>
<circle cx="513.18" cy="247.10" r="2.7" fill="#000"/>
<circle cx="514.43" cy="249.35" r="2.7" fill="#000"/>
<circle cx="515.67" cy="251.60" r="2.7" fill="#000"/>
<circle cx="516.91" cy="253.85" r="2.7" fill="#000"/>
<circle cx="518.15" cy="256.10" r="2.7" fill="#000"/>
<circle cx="519.40" cy="258.35" r="2.7" fill="#000"/>
<circle cx="520.64" cy="260.60" r="2.7" fill="#000"/>
<circle cx="530.58" cy="267.90" r="2.7" fill="#000"/>
<circle cx="560.40" cy="273.90" r="2.7" fill="#000"/>
<circle cx="610.10" cy="280.00" r="2.7" fill="#000"/>
<circle cx="709.50" cy="281.00" r="2.7" fill="#000"/>
<path d="M510.70,301.00 L511.94,302.25 L513.18,303.50 L514.43,304.75 L515.67,306.00 L516.91,307.25 L518.15,308.50 L519.40,309.75 L520.64,311.00 L530.58,312.90 L560.40,319.70 L610.10,319.70 L709.50,322.90" fill="none" stroke="#000" stroke-width="1.6" stroke-dasharray="5 3.6"/>
<circle cx="510.70" cy="301.00" r="2.7" fill="#000"/>
<circle cx="511.94" cy="302.25" r="2.7" fill="#000"/>
<circle cx="513.18" cy="303.50" r="2.7" fill="#000"/>
<circle cx="514.43" cy="304.75" r="2.7" fill="#000"/>
<circle cx="515.67" cy="306.00" r="2.7" fill="#000"/>
<circle cx="516.91" cy="307.25" r="2.7" fill="#000"/>
<circle cx="518.15" cy="308.50" r="2.7" fill="#000"/>
<circle cx="519.40" cy="309.75" r="2.7" fill="#000"/>
<circle cx="520.64" cy="311.00" r="2.7" fill="#000"/>
<circle cx="530.58" cy="312.90" r="2.7" fill="#000"/>
<circle cx="560.40" cy="319.70" r="2.7" fill="#000"/>
<circle cx="610.10" cy="319.70" r="2.7" fill="#000"/>
<circle cx="709.50" cy="322.90" r="2.7" fill="#000"/>
<path d="M510.70,306.50 L511.94,307.62 L513.18,308.75 L514.43,309.88 L515.67,311.00 L516.91,312.12 L518.15,313.25 L519.40,314.38 L520.64,315.50 L530.58,320.60 L560.40,331.00 L610.10,331.10 L709.50,337.90" fill="none" stroke="#000" stroke-width="1.6" stroke-dasharray="5 3.6"/>
<circle cx="510.70" cy="306.50" r="2.7" fill="#000"/>
<circle cx="511.94" cy="307.62" r="2.7" fill="#000"/>
<circle cx="513.18" cy="308.75" r="2.7" fill="#000"/>
<circle cx="514.43" cy="309.88" r="2.7" fill="#000"/>
<circle cx="515.67" cy="311.00" r="2.7" fill="#000"/>
<circle cx="516.91" cy="312.12" r="2.7" fill="#000"/>
<circle cx="518.15" cy="313.25" r="2.7" fill="#000"/>
<circle cx="519.40" cy="314.38" r="2.7" fill="#000"/>
<circle cx="520.64" cy="315.50" r="2.7" fill="#000"/>
<circle cx="530.58" cy="320.60" r="2.7" fill="#000"/>
<circle cx="560.40" cy="331.00" r="2.7" fill="#000"/>
<circle cx="610.10" cy="331.10" r="2.7" fill="#000"/>
<circle cx="709.50" cy="337.90" r="2.7" fill="#000"/>
<path d="M510.70,314.50 L511.94,315.69 L513.18,316.88 L514.43,318.06 L515.67,319.25 L516.91,320.44 L518.15,321.62 L519.40,322.81 L520.64,324.00 L530.58,331.50 L560.40,342.70 L610.10,346.80 L709.50,348.10" fill="none" stroke="#000" stroke-width="1.6" stroke-dasharray="5 3.6"/>
<circle cx="510.70" cy="314.50" r="2.7" fill="#000"/>
<circle cx="511.94" cy="315.69" r="2.7" fill="#000"/>
<circle cx="513.18" cy="316.88" r="2.7" fill="#000"/>
<circle cx="514.43" cy="318.06" r="2.7" fill="#000"/>
<circle cx="515.67" cy="319.25" r="2.7" fill="#000"/>
<circle cx="516.91" cy="320.44" r="2.7" fill="#000"/>
<circle cx="518.15" cy="321.62" r="2.7" fill="#000"/>
<circle cx="519.40" cy="322.81" r="2.7" fill="#000"/>
<circle cx="520.64" cy="324.00" r="2.7" fill="#000"/>
<circle cx="530.58" cy="331.50" r="2.7" fill="#000"/>
<circle cx="560.40" cy="342.70" r="2.7" fill="#000"/>
<circle cx="610.10" cy="346.80" r="2.7" fill="#000"/>
<circle cx="709.50" cy="348.10" r="2.7" fill="#000"/>
<path d="M510.70,320.50 L511.94,321.81 L513.18,323.12 L514.43,324.44 L515.67,325.75 L516.91,327.06 L518.15,328.38 L519.40,329.69 L520.64,331.00 L530.58,339.50 L560.40,352.00 L610.10,356.10 L709.50,357.30" fill="none" stroke="#000" stroke-width="1.6" stroke-dasharray="5 3.6"/>
<circle cx="510.70" cy="320.50" r="2.7" fill="#000"/>
<circle cx="511.94" cy="321.81" r="2.7" fill="#000"/>
<circle cx="513.18" cy="323.12" r="2.7" fill="#000"/>
<circle cx="514.43" cy="324.44" r="2.7" fill="#000"/>
<circle cx="515.67" cy="325.75" r="2.7" fill="#000"/>
<circle cx="516.91" cy="327.06" r="2.7" fill="#000"/>
<circle cx="518.15" cy="328.38" r="2.7" fill="#000"/>
<circle cx="519.40" cy="329.69" r="2.7" fill="#000"/>
<circle cx="520.64" cy="331.00" r="2.7" fill="#000"/>
<circle cx="530.58" cy="339.50" r="2.7" fill="#000"/>
<circle cx="560.40" cy="352.00" r="2.7" fill="#000"/>
<circle cx="610.10" cy="356.10" r="2.7" fill="#000"/>
<circle cx="709.50" cy="357.30" r="2.7" fill="#000"/>
<path d="M510.70,332.60 L511.94,333.34 L513.18,334.08 L514.43,334.81 L515.67,335.55 L516.91,336.29 L518.15,337.02 L519.40,337.76 L520.64,338.50 L530.58,347.60 L560.40,357.30 L610.10,361.30 L709.50,364.20" fill="none" stroke="#000" stroke-width="1.6" stroke-dasharray="5 3.6"/>
<circle cx="510.70" cy="332.60" r="2.7" fill="#000"/>
<circle cx="511.94" cy="333.34" r="2.7" fill="#000"/>
<circle cx="513.18" cy="334.08" r="2.7" fill="#000"/>
<circle cx="514.43" cy="334.81" r="2.7" fill="#000"/>
<circle cx="515.67" cy="335.55" r="2.7" fill="#000"/>
<circle cx="516.91" cy="336.29" r="2.7" fill="#000"/>
<circle cx="518.15" cy="337.02" r="2.7" fill="#000"/>
<circle cx="519.40" cy="337.76" r="2.7" fill="#000"/>
<circle cx="520.64" cy="338.50" r="2.7" fill="#000"/>
<circle cx="530.58" cy="347.60" r="2.7" fill="#000"/>
<circle cx="560.40" cy="357.30" r="2.7" fill="#000"/>
<circle cx="610.10" cy="361.30" r="2.7" fill="#000"/>
<circle cx="709.50" cy="364.20" r="2.7" fill="#000"/>
<text x="720.0" y="284.6" font-size="14.2" font-weight="bold" fill="#000">H</text>
<text x="730.14" y="280.06" font-size="10" font-weight="bold" fill="#000">1</text>
<text x="720.6" y="324.0" font-size="14.2" font-weight="bold" fill="#000">H</text>
<text x="730.74" y="319.46" font-size="10" font-weight="bold" fill="#000">2</text>
<text x="720.6" y="334.5" font-size="14.2" font-weight="bold" fill="#000">H</text>
<text x="730.74" y="329.96" font-size="10" font-weight="bold" fill="#000">4</text>
<text x="720.6" y="345.2" font-size="14.2" font-weight="bold" fill="#000">H</text>
<text x="730.74" y="340.66" font-size="10" font-weight="bold" fill="#000">6'</text>
<text x="720.6" y="357.7" font-size="14.2" font-weight="bold" fill="#000">H</text>
<text x="730.74" y="353.16" font-size="10" font-weight="bold" fill="#000">3,7'</text>
<text x="720.6" y="368.7" font-size="14.2" font-weight="bold" fill="#000">H</text>
<text x="730.74" y="364.16" font-size="10" font-weight="bold" fill="#000">7</text>
</svg>
</body></html>
